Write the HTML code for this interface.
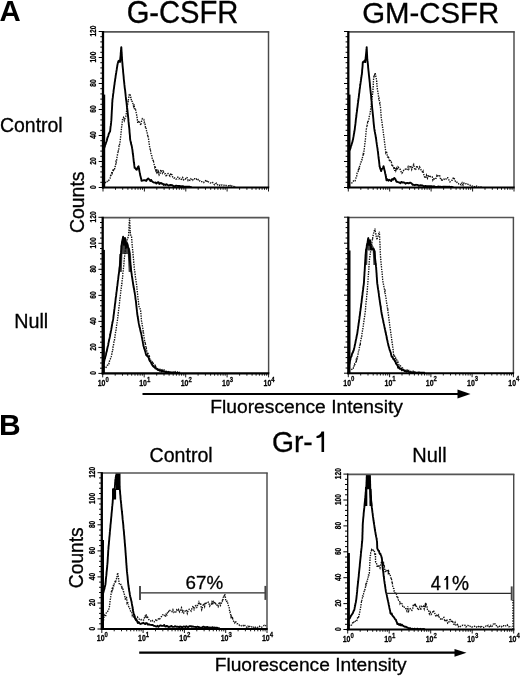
<!DOCTYPE html>
<html><head><meta charset="utf-8"><style>
html,body{margin:0;padding:0;background:#fff;width:520px;height:676px;overflow:hidden}
svg{display:block;filter:grayscale(1)}
text{font-family:"Liberation Sans", sans-serif;fill:#000}
</style></head><body>
<svg width="520" height="676" viewBox="0 0 520 676">
<rect width="520" height="676" fill="#fff"/>
<clipPath id="c1061"><rect x="100.0" y="31.7" width="171.5" height="159.0"/></clipPath>
<g clip-path="url(#c1061)">
<path d="M104.0,185.2 L104.8,183.2 L105.4,182.7 L106.0,181.6 L106.5,181.9 L107.1,181.6 L107.7,180.2 L108.5,180.4 L109.3,179.7 L110.1,178.2 L110.4,176.7 L110.8,174.6 L111.1,175.7 L111.5,173.6 L111.8,172.0 L112.2,173.1 L112.5,172.0 L113.1,168.9 L113.7,170.5 L114.2,169.9 L114.8,168.3 L115.0,167.1 L115.2,166.5 L115.4,165.1 L115.6,165.0 L115.8,163.8 L116.0,161.9 L116.2,162.2 L116.4,161.4 L116.6,160.3 L116.8,158.5 L117.0,157.6 L117.1,156.9 L117.3,156.4 L117.5,154.2 L117.7,153.5 L117.9,152.4 L118.0,151.3 L118.2,151.8 L118.4,149.7 L118.6,149.9 L118.8,149.0 L118.9,147.4 L119.1,146.0 L119.3,146.1 L119.5,145.3 L119.7,143.7 L119.8,143.1 L120.0,142.3 L120.2,140.4 L120.3,139.6 L120.4,139.0 L120.5,137.9 L120.6,136.9 L120.7,135.6 L120.8,134.8 L120.9,134.4 L121.0,133.0 L121.1,132.2 L121.2,130.9 L121.3,130.2 L121.4,129.4 L121.5,128.5 L121.6,126.8 L121.7,126.4 L121.8,125.2 L122.0,124.6 L122.1,123.1 L122.2,122.8 L122.3,121.6 L122.4,120.4 L122.5,119.4 L123.5,117.5 L124.3,120.5 L125.0,118.4 L125.8,116.7 L125.9,115.2 L126.1,114.3 L126.2,113.8 L126.4,113.0 L126.5,111.3 L126.7,110.4 L126.8,109.6 L126.9,108.5 L127.1,108.4 L127.2,107.2 L127.4,105.4 L127.5,105.3 L127.7,104.5 L127.8,102.9 L128.0,102.7 L128.2,100.7 L128.3,101.0 L128.5,99.0 L128.6,98.0 L128.8,97.2 L129.0,96.8 L129.1,95.8 L129.3,94.4 L130.0,93.9 L130.2,94.7 L130.4,95.5 L130.6,97.4 L130.9,97.3 L131.1,98.1 L131.3,100.3 L131.5,100.0 L131.9,101.2 L132.4,101.6 L132.8,103.2 L133.2,105.4 L133.7,106.6 L134.1,104.4 L134.5,108.6 L135.0,108.7 L135.4,108.3 L135.6,109.6 L135.7,110.8 L135.9,111.3 L136.1,112.2 L136.2,112.8 L136.4,113.8 L136.6,114.6 L136.7,116.4 L136.9,117.1 L137.0,117.3 L137.2,118.1 L137.4,119.9 L137.5,121.0 L137.7,123.2 L138.7,120.8 L139.8,122.4 L140.8,125.3 L141.6,120.9 L142.3,118.8 L143.1,119.6 L143.8,119.5 L144.0,120.1 L144.3,122.5 L144.5,122.3 L144.8,123.4 L145.0,123.6 L145.2,125.6 L145.5,127.4 L145.7,127.7 L146.0,127.3 L146.2,130.0 L146.4,130.2 L146.7,131.8 L146.9,131.9 L147.1,131.9 L147.3,133.7 L147.6,135.2 L147.8,136.4 L148.0,135.9 L148.3,138.3 L148.5,138.6 L148.6,139.5 L148.8,140.4 L148.9,141.7 L149.0,142.0 L149.1,142.8 L149.2,143.6 L149.4,145.2 L149.5,145.4 L149.6,146.9 L149.8,147.3 L149.9,148.5 L150.0,148.6 L150.2,150.8 L150.5,150.6 L150.7,151.5 L150.9,153.3 L151.2,154.0 L151.4,154.5 L151.6,155.6 L151.8,155.7 L152.1,156.9 L152.3,158.9 L152.6,159.4 L152.9,159.4 L153.2,162.0 L153.5,161.7 L153.9,163.5 L154.2,164.7 L154.5,165.8 L154.8,167.1 L155.1,166.1 L155.4,167.3 L155.8,170.2 L156.3,169.2 L156.7,172.0 L157.2,170.8 L157.6,172.3 L158.1,173.1 L158.5,171.8 L159.2,175.0 L160.0,173.9 L160.8,169.7 L161.5,172.0 L162.3,173.2 L163.1,170.1 L163.8,173.1 L164.6,173.9 L165.4,173.8 L166.2,176.8 L167.1,174.3 L168.0,173.5 L169.0,174.9 L169.9,176.0 L170.8,173.3 L171.4,174.3 L172.1,174.9 L172.7,177.1 L173.8,178.3 L174.8,177.9 L175.8,179.0 L176.9,178.9 L177.9,177.2 L179.0,178.8 L180.0,178.2 L180.9,179.2 L181.8,179.5 L182.7,177.7 L183.6,179.8 L184.5,178.9 L185.4,179.1 L186.3,177.2 L187.2,177.7 L188.1,180.5 L189.0,179.8 L189.9,180.4 L190.8,178.9 L191.7,179.9 L192.6,180.3 L193.5,178.5 L194.4,178.6 L195.3,179.5 L196.2,178.9 L197.1,180.1 L198.0,179.5 L198.9,181.3 L199.9,180.8 L200.8,181.6 L201.8,181.7 L202.7,182.1 L203.7,182.6 L204.6,181.1 L205.6,180.7 L206.5,182.0 L207.4,180.5 L208.3,181.8 L209.2,182.2 L210.1,182.9 L211.0,183.0 L211.9,183.4 L212.8,182.5 L213.7,183.8 L214.6,184.8 L215.5,183.8 L216.5,183.2 L217.4,184.5 L218.3,185.3 L219.2,185.7 L220.1,184.9 L221.0,185.4 L221.9,184.9 L222.8,185.3 L223.7,185.6 L224.6,184.7 L225.6,185.2 L226.5,185.5 L227.4,185.7 L228.3,185.7 L229.2,186.7 L230.1,185.5 L231.0,186.6 L231.9,185.8 L232.9,186.4 L233.9,186.5 L235.0,187.1 L236.0,187.0" fill="none" stroke="#111" stroke-width="1.35" stroke-dasharray="1.4,1.1"/>
<path d="M103.5,150.5 L103.8,148.9 L104.2,148.0 L104.5,147.2 L104.8,146.5 L105.1,144.8 L105.4,144.7 L105.7,143.8 L106.0,142.7 L106.3,142.0 L106.6,141.1 L106.9,140.2 L107.2,138.8 L107.5,137.7 L107.8,136.9 L108.0,136.7 L108.3,135.7 L108.6,134.4 L108.9,133.6 L109.5,132.3 L110.1,131.5 L110.2,130.3 L110.3,129.5 L110.4,128.4 L110.5,127.5 L110.6,126.3 L110.8,125.7 L110.9,124.6 L111.0,123.5 L111.1,122.7 L111.2,121.5 L111.3,120.7 L111.4,119.6 L111.4,118.8 L111.5,117.9 L111.5,116.8 L111.6,115.9 L111.6,114.8 L111.7,113.9 L111.7,112.9 L111.8,112.0 L111.8,110.9 L111.9,110.0 L112.0,109.0 L112.0,108.1 L112.1,107.1 L112.1,106.1 L112.2,105.2 L112.2,104.2 L112.2,103.2 L112.3,102.3 L112.4,101.4 L112.4,100.4 L112.5,99.6 L112.6,98.6 L112.8,97.7 L112.9,96.5 L113.0,95.6 L113.1,94.6 L113.2,93.9 L113.4,92.9 L113.5,91.8 L113.6,90.7 L113.7,89.9 L113.8,89.2 L114.0,88.1 L114.1,87.2 L114.2,86.4 L114.3,85.4 L114.5,84.5 L114.6,83.4 L114.7,82.4 L114.8,81.8 L115.0,81.1 L115.1,79.8 L115.2,78.9 L115.4,78.3 L115.5,77.5 L115.6,76.5 L115.7,75.6 L115.9,74.8 L116.0,73.6 L116.2,72.9 L116.3,71.9 L116.5,70.8 L116.6,70.3 L116.8,69.2 L116.9,68.2 L117.0,67.5 L117.2,66.6 L117.3,65.5 L117.5,64.8 L117.6,63.7 L117.8,63.3 L118.3,61.4 L118.7,60.9 L119.2,60.7 L120.0,61.9 L120.1,61.2 L120.2,60.0 L120.2,59.3 L120.3,58.3 L120.4,57.3 L120.5,56.5 L120.6,55.6 L120.7,54.7 L120.7,53.7 L120.8,52.6 L120.9,51.7 L121.0,51.0 L121.1,49.8 L121.1,49.0 L121.2,47.9 L121.3,47.2 L121.4,48.0 L121.4,49.0 L121.5,49.9 L121.5,50.9 L121.6,51.8 L121.7,52.7 L121.7,53.6 L121.8,54.6 L121.8,55.7 L121.9,56.6 L122.0,57.5 L122.0,58.6 L122.1,59.3 L122.1,60.3 L122.2,61.3 L122.3,62.2 L122.4,63.3 L122.5,64.0 L122.5,64.9 L122.6,65.8 L122.7,66.9 L122.8,67.8 L122.9,68.8 L123.0,69.7 L123.1,70.6 L123.1,71.6 L123.2,72.5 L123.3,73.5 L123.4,74.4 L123.5,75.4 L123.6,76.3 L123.7,77.3 L123.7,78.2 L123.8,79.0 L123.9,80.0 L124.0,80.9 L124.1,81.7 L124.2,82.7 L124.3,83.6 L124.4,84.7 L124.5,85.4 L124.6,86.5 L124.7,87.5 L124.8,88.3 L125.0,89.4 L125.1,90.1 L125.2,91.0 L125.3,92.1 L125.4,93.1 L125.5,93.9 L125.6,94.8 L125.7,96.0 L125.8,96.9 L125.9,97.6 L126.0,98.8 L126.1,99.8 L126.3,100.7 L126.4,101.6 L126.5,102.3 L126.6,103.5 L126.7,104.4 L126.8,105.2 L126.9,106.4 L127.0,107.2 L127.2,108.1 L127.3,109.3 L127.4,109.9 L127.5,110.8 L127.6,112.0 L127.7,112.9 L127.8,113.9 L127.9,114.7 L128.0,115.6 L128.1,116.6 L128.2,117.5 L128.3,118.6 L128.4,119.4 L128.4,120.4 L128.5,121.4 L128.6,122.1 L128.7,123.2 L128.8,124.3 L128.9,125.0 L129.0,126.1 L129.1,126.8 L129.2,127.7 L129.3,128.7 L129.4,129.6 L129.5,130.9 L129.5,131.6 L129.6,132.6 L129.7,133.6 L129.8,134.6 L129.9,135.5 L130.0,136.7 L130.0,137.6 L130.1,138.6 L130.2,139.6 L130.4,140.5 L130.6,141.2 L130.8,142.3 L131.0,143.2 L131.2,144.3 L131.5,145.1 L131.7,145.9 L131.9,146.9 L132.1,148.2 L132.3,149.1 L132.4,149.9 L132.5,150.7 L132.6,151.6 L132.7,152.5 L132.8,153.5 L133.0,154.6 L133.1,155.2 L133.2,156.1 L133.3,157.2 L133.4,158.0 L133.5,159.0 L133.6,160.0 L133.7,160.9 L133.8,161.8 L133.9,162.6 L134.1,163.3 L134.2,164.3 L134.3,165.4 L134.4,166.2 L134.5,167.0 L134.6,167.9 L135.4,168.2 L136.2,169.5 L136.7,169.8 L137.1,168.9 L137.6,167.7 L138.0,166.9 L138.5,166.3 L138.7,167.1 L138.8,167.6 L139.0,168.8 L139.2,169.7 L139.3,170.6 L139.5,171.5 L139.7,172.0 L139.8,172.9 L140.0,173.7 L140.2,175.3 L140.5,176.2 L140.8,177.4 L141.0,178.4 L141.2,178.7 L141.5,180.9 L142.4,180.6 L143.4,180.3 L144.3,180.3 L145.3,180.3 L146.2,180.9 L147.2,179.4 L148.2,178.4 L149.2,179.4 L149.8,179.9 L150.4,180.9 L151.1,179.9 L151.7,181.0 L152.3,181.5 L153.3,182.3 L154.4,182.6 L155.4,182.5 L156.4,183.6 L157.5,182.5 L158.5,182.2 L159.4,184.0 L160.2,183.2 L161.1,183.0 L162.0,183.8 L162.9,183.7 L163.7,184.9 L164.6,184.4 L165.6,185.0 L166.6,184.2 L167.6,185.0 L168.6,185.5 L169.6,185.2 L170.6,184.9 L172.3,185.1 L173.3,186.0 L174.2,186.1 L175.2,186.0 L176.2,185.7 L177.1,185.9 L178.1,186.0 L179.1,186.0 L180.0,186.0 L181.0,186.7 L182.0,186.2 L182.9,186.1 L183.9,186.7 L184.9,186.6 L185.9,186.8 L186.8,186.7 L187.8,186.6 L188.8,186.8 L189.8,186.8 L190.7,187.1 L191.7,187.0" fill="none" stroke="#000" stroke-width="1.9" stroke-linejoin="round"/>
</g>
<rect x="103.0" y="94.6" width="2.2" height="92.9" fill="#000"/>
<line x1="103.0" y1="31.8" x2="269.2" y2="31.8" stroke="#555" stroke-width="1.7"/>
<line x1="268.5" y1="31.5" x2="268.5" y2="187.5" stroke="#4a4a4a" stroke-width="1.45"/>
<line x1="103.0" y1="31.0" x2="103.0" y2="188.5" stroke="#000" stroke-width="2.3"/>
<line x1="102.0" y1="187.5" x2="269.2" y2="187.5" stroke="#000" stroke-width="2.1"/>
<line x1="98.7" y1="187.5" x2="103.0" y2="187.5" stroke="#000" stroke-width="1.0"/>
<text transform="translate(96.4,187.1) rotate(-90) scale(1,1.3)" font-size="6.6" font-weight="bold" text-anchor="middle" stroke="#000" stroke-width="0.2">0</text>
<line x1="100.3" y1="182.3" x2="103.0" y2="182.3" stroke="#000" stroke-width="1.0"/>
<line x1="100.3" y1="177.1" x2="103.0" y2="177.1" stroke="#000" stroke-width="1.0"/>
<line x1="100.3" y1="171.9" x2="103.0" y2="171.9" stroke="#000" stroke-width="1.0"/>
<line x1="100.3" y1="166.7" x2="103.0" y2="166.7" stroke="#000" stroke-width="1.0"/>
<line x1="98.7" y1="161.5" x2="103.0" y2="161.5" stroke="#000" stroke-width="1.0"/>
<text transform="translate(96.4,161.1) rotate(-90) scale(1,1.3)" font-size="6.6" font-weight="bold" text-anchor="middle" stroke="#000" stroke-width="0.2">20</text>
<line x1="100.3" y1="156.3" x2="103.0" y2="156.3" stroke="#000" stroke-width="1.0"/>
<line x1="100.3" y1="151.1" x2="103.0" y2="151.1" stroke="#000" stroke-width="1.0"/>
<line x1="100.3" y1="145.9" x2="103.0" y2="145.9" stroke="#000" stroke-width="1.0"/>
<line x1="100.3" y1="140.7" x2="103.0" y2="140.7" stroke="#000" stroke-width="1.0"/>
<line x1="98.7" y1="135.5" x2="103.0" y2="135.5" stroke="#000" stroke-width="1.0"/>
<text transform="translate(96.4,135.1) rotate(-90) scale(1,1.3)" font-size="6.6" font-weight="bold" text-anchor="middle" stroke="#000" stroke-width="0.2">40</text>
<line x1="100.3" y1="130.3" x2="103.0" y2="130.3" stroke="#000" stroke-width="1.0"/>
<line x1="100.3" y1="125.1" x2="103.0" y2="125.1" stroke="#000" stroke-width="1.0"/>
<line x1="100.3" y1="119.9" x2="103.0" y2="119.9" stroke="#000" stroke-width="1.0"/>
<line x1="100.3" y1="114.7" x2="103.0" y2="114.7" stroke="#000" stroke-width="1.0"/>
<line x1="98.7" y1="109.5" x2="103.0" y2="109.5" stroke="#000" stroke-width="1.0"/>
<text transform="translate(96.4,109.1) rotate(-90) scale(1,1.3)" font-size="6.6" font-weight="bold" text-anchor="middle" stroke="#000" stroke-width="0.2">60</text>
<line x1="100.3" y1="104.3" x2="103.0" y2="104.3" stroke="#000" stroke-width="1.0"/>
<line x1="100.3" y1="99.1" x2="103.0" y2="99.1" stroke="#000" stroke-width="1.0"/>
<line x1="100.3" y1="93.9" x2="103.0" y2="93.9" stroke="#000" stroke-width="1.0"/>
<line x1="100.3" y1="88.7" x2="103.0" y2="88.7" stroke="#000" stroke-width="1.0"/>
<line x1="98.7" y1="83.5" x2="103.0" y2="83.5" stroke="#000" stroke-width="1.0"/>
<text transform="translate(96.4,83.1) rotate(-90) scale(1,1.3)" font-size="6.6" font-weight="bold" text-anchor="middle" stroke="#000" stroke-width="0.2">80</text>
<line x1="100.3" y1="78.3" x2="103.0" y2="78.3" stroke="#000" stroke-width="1.0"/>
<line x1="100.3" y1="73.1" x2="103.0" y2="73.1" stroke="#000" stroke-width="1.0"/>
<line x1="100.3" y1="67.9" x2="103.0" y2="67.9" stroke="#000" stroke-width="1.0"/>
<line x1="100.3" y1="62.7" x2="103.0" y2="62.7" stroke="#000" stroke-width="1.0"/>
<line x1="98.7" y1="57.5" x2="103.0" y2="57.5" stroke="#000" stroke-width="1.0"/>
<text transform="translate(96.4,57.1) rotate(-90) scale(1,1.3)" font-size="6.6" font-weight="bold" text-anchor="middle" stroke="#000" stroke-width="0.2">100</text>
<line x1="100.3" y1="52.3" x2="103.0" y2="52.3" stroke="#000" stroke-width="1.0"/>
<line x1="100.3" y1="47.1" x2="103.0" y2="47.1" stroke="#000" stroke-width="1.0"/>
<line x1="100.3" y1="41.9" x2="103.0" y2="41.9" stroke="#000" stroke-width="1.0"/>
<line x1="100.3" y1="36.7" x2="103.0" y2="36.7" stroke="#000" stroke-width="1.0"/>
<line x1="98.7" y1="31.5" x2="103.0" y2="31.5" stroke="#000" stroke-width="1.0"/>
<text transform="translate(96.4,31.1) rotate(-90) scale(1,1.3)" font-size="6.6" font-weight="bold" text-anchor="middle" stroke="#000" stroke-width="0.2">120</text>
<line x1="103.0" y1="187.5" x2="103.0" y2="191.5" stroke="#000" stroke-width="0.9"/>
<line x1="115.5" y1="187.5" x2="115.5" y2="189.8" stroke="#000" stroke-width="0.9"/>
<line x1="122.7" y1="187.5" x2="122.7" y2="189.8" stroke="#000" stroke-width="0.9"/>
<line x1="127.9" y1="187.5" x2="127.9" y2="189.8" stroke="#000" stroke-width="0.9"/>
<line x1="131.9" y1="187.5" x2="131.9" y2="189.8" stroke="#000" stroke-width="0.9"/>
<line x1="135.2" y1="187.5" x2="135.2" y2="189.8" stroke="#000" stroke-width="0.9"/>
<line x1="138.0" y1="187.5" x2="138.0" y2="189.8" stroke="#000" stroke-width="0.9"/>
<line x1="140.4" y1="187.5" x2="140.4" y2="189.8" stroke="#000" stroke-width="0.9"/>
<line x1="142.5" y1="187.5" x2="142.5" y2="189.8" stroke="#000" stroke-width="0.9"/>
<line x1="144.4" y1="187.5" x2="144.4" y2="191.5" stroke="#000" stroke-width="0.9"/>
<line x1="156.8" y1="187.5" x2="156.8" y2="189.8" stroke="#000" stroke-width="0.9"/>
<line x1="164.1" y1="187.5" x2="164.1" y2="189.8" stroke="#000" stroke-width="0.9"/>
<line x1="169.3" y1="187.5" x2="169.3" y2="189.8" stroke="#000" stroke-width="0.9"/>
<line x1="173.3" y1="187.5" x2="173.3" y2="189.8" stroke="#000" stroke-width="0.9"/>
<line x1="176.6" y1="187.5" x2="176.6" y2="189.8" stroke="#000" stroke-width="0.9"/>
<line x1="179.3" y1="187.5" x2="179.3" y2="189.8" stroke="#000" stroke-width="0.9"/>
<line x1="181.7" y1="187.5" x2="181.7" y2="189.8" stroke="#000" stroke-width="0.9"/>
<line x1="183.9" y1="187.5" x2="183.9" y2="189.8" stroke="#000" stroke-width="0.9"/>
<line x1="185.8" y1="187.5" x2="185.8" y2="191.5" stroke="#000" stroke-width="0.9"/>
<line x1="198.2" y1="187.5" x2="198.2" y2="189.8" stroke="#000" stroke-width="0.9"/>
<line x1="205.5" y1="187.5" x2="205.5" y2="189.8" stroke="#000" stroke-width="0.9"/>
<line x1="210.7" y1="187.5" x2="210.7" y2="189.8" stroke="#000" stroke-width="0.9"/>
<line x1="214.7" y1="187.5" x2="214.7" y2="189.8" stroke="#000" stroke-width="0.9"/>
<line x1="217.9" y1="187.5" x2="217.9" y2="189.8" stroke="#000" stroke-width="0.9"/>
<line x1="220.7" y1="187.5" x2="220.7" y2="189.8" stroke="#000" stroke-width="0.9"/>
<line x1="223.1" y1="187.5" x2="223.1" y2="189.8" stroke="#000" stroke-width="0.9"/>
<line x1="225.2" y1="187.5" x2="225.2" y2="189.8" stroke="#000" stroke-width="0.9"/>
<line x1="227.1" y1="187.5" x2="227.1" y2="191.5" stroke="#000" stroke-width="0.9"/>
<line x1="239.6" y1="187.5" x2="239.6" y2="189.8" stroke="#000" stroke-width="0.9"/>
<line x1="246.9" y1="187.5" x2="246.9" y2="189.8" stroke="#000" stroke-width="0.9"/>
<line x1="252.0" y1="187.5" x2="252.0" y2="189.8" stroke="#000" stroke-width="0.9"/>
<line x1="256.0" y1="187.5" x2="256.0" y2="189.8" stroke="#000" stroke-width="0.9"/>
<line x1="259.3" y1="187.5" x2="259.3" y2="189.8" stroke="#000" stroke-width="0.9"/>
<line x1="262.1" y1="187.5" x2="262.1" y2="189.8" stroke="#000" stroke-width="0.9"/>
<line x1="264.5" y1="187.5" x2="264.5" y2="189.8" stroke="#000" stroke-width="0.9"/>
<line x1="266.6" y1="187.5" x2="266.6" y2="189.8" stroke="#000" stroke-width="0.9"/>
<line x1="268.5" y1="187.5" x2="268.5" y2="191.5" stroke="#000" stroke-width="0.9"/>
<clipPath id="c3514"><rect x="345.3" y="31.7" width="171.7" height="159.0"/></clipPath>
<g clip-path="url(#c3514)">
<path d="M351.2,183.1 L351.9,182.8 L352.5,182.4 L353.2,181.4 L353.8,180.3 L354.5,180.8 L355.1,180.8 L355.8,178.5 L356.1,177.3 L356.4,177.1 L356.7,176.1 L357.0,173.7 L357.2,172.8 L357.5,172.0 L357.8,171.6 L358.1,171.5 L358.4,169.2 L358.7,170.2 L359.1,168.2 L359.4,168.4 L359.7,165.2 L360.0,164.8 L360.3,164.3 L360.6,163.4 L360.9,163.3 L361.3,160.8 L361.6,160.4 L361.9,159.6 L362.2,159.7 L362.4,157.9 L362.7,156.6 L362.9,156.3 L363.2,154.5 L363.4,155.0 L363.7,153.6 L363.8,152.6 L363.9,151.5 L364.0,150.5 L364.2,150.3 L364.3,148.8 L364.4,147.7 L364.5,147.5 L364.6,146.1 L364.7,145.2 L364.8,144.7 L364.9,143.4 L365.1,142.0 L365.2,141.2 L365.3,140.4 L365.4,139.6 L365.5,138.3 L365.6,137.2 L365.6,136.8 L365.7,135.7 L365.8,134.7 L365.9,133.4 L366.0,132.4 L366.1,131.4 L366.1,131.0 L366.2,129.8 L366.3,129.5 L366.5,128.1 L366.8,126.3 L367.0,127.0 L367.2,124.8 L367.4,124.4 L367.6,122.6 L367.9,122.9 L368.1,122.5 L368.3,120.9 L368.6,119.9 L368.8,119.5 L369.0,118.4 L369.2,116.6 L369.4,116.0 L369.7,114.8 L369.9,114.2 L370.0,114.1 L370.2,113.0 L370.3,112.2 L370.4,111.0 L370.6,109.5 L370.7,109.2 L370.8,108.1 L370.9,107.1 L371.1,106.2 L371.2,104.6 L371.3,104.4 L371.5,103.3 L371.6,102.3 L371.7,101.4 L371.8,100.8 L371.9,99.1 L372.0,98.4 L372.1,97.3 L372.2,96.7 L372.4,96.1 L372.5,94.5 L372.6,93.7 L372.7,92.4 L372.8,92.2 L372.9,90.8 L373.0,90.1 L373.0,89.2 L373.1,88.4 L373.1,87.3 L373.2,86.5 L373.2,85.6 L373.3,84.6 L373.3,83.8 L373.4,82.8 L373.4,81.8 L373.5,80.9 L373.5,80.0 L373.6,78.9 L373.7,77.8 L373.8,77.6 L374.0,76.1 L374.1,75.6 L374.2,75.0 L374.3,76.2 L375.0,73.3 L375.2,72.9 L375.4,73.9 L375.6,74.9 L375.9,76.8 L376.1,77.6 L376.3,78.4 L376.5,79.5 L376.6,79.8 L376.7,81.2 L376.7,81.7 L376.8,83.2 L376.9,83.6 L377.0,84.8 L377.1,85.7 L377.1,86.8 L377.2,87.5 L377.3,88.1 L377.4,89.8 L377.6,90.7 L377.8,91.2 L377.9,92.5 L378.1,93.2 L378.2,93.5 L378.4,95.1 L378.5,96.5 L378.7,97.2 L378.8,98.5 L379.0,98.3 L379.2,99.9 L379.3,100.6 L379.5,101.5 L379.7,103.1 L379.9,102.9 L380.0,104.2 L380.2,105.5 L380.4,106.3 L380.5,107.3 L380.5,107.8 L380.6,108.9 L380.7,109.5 L380.7,110.9 L380.8,111.8 L380.9,112.7 L380.9,113.1 L381.0,114.2 L381.1,115.1 L381.1,115.9 L381.2,117.1 L381.3,118.5 L381.5,119.1 L381.6,120.1 L381.7,120.8 L381.8,121.1 L382.0,122.6 L382.1,123.7 L382.2,124.2 L382.4,125.6 L382.5,126.1 L382.6,127.4 L382.7,128.4 L382.9,129.2 L383.0,130.0 L383.1,131.3 L383.2,131.8 L383.4,133.0 L383.5,133.6 L383.6,134.6 L383.7,135.5 L383.8,137.0 L384.0,137.1 L384.1,138.4 L384.2,139.1 L384.3,140.4 L384.4,141.7 L384.5,141.8 L384.6,142.8 L384.8,144.1 L384.9,145.2 L385.0,146.2 L385.1,146.9 L385.2,148.1 L385.3,148.7 L385.5,149.7 L385.6,150.8 L385.7,151.3 L385.8,152.5 L386.2,151.7 L386.7,152.3 L387.1,155.0 L387.5,157.0 L387.9,156.8 L388.4,156.1 L388.8,158.6 L389.2,159.9 L389.7,161.7 L390.1,159.5 L390.5,160.8 L391.0,162.1 L391.4,162.0 L391.8,166.2 L392.3,166.4 L392.7,165.8 L393.2,166.5 L393.7,167.9 L394.2,166.7 L394.8,170.8 L395.3,168.5 L395.8,170.5 L396.4,168.4 L396.9,169.7 L397.4,169.9 L398.0,166.9 L398.8,167.7 L399.6,168.7 L400.3,169.6 L401.1,171.6 L401.9,173.2 L402.9,172.1 L404.0,169.5 L405.0,169.4 L405.8,169.0 L406.5,169.9 L407.3,169.1 L408.1,166.9 L408.8,169.1 L409.6,167.3 L410.6,165.6 L411.7,169.4 L412.7,166.3 L413.7,164.5 L414.8,169.9 L415.8,169.4 L416.8,165.7 L417.8,167.5 L418.8,168.9 L419.6,167.0 L420.4,168.7 L421.1,169.9 L421.9,171.2 L422.7,172.5 L423.1,171.5 L423.5,173.6 L423.8,174.4 L424.2,176.1 L424.6,177.1 L425.6,178.1 L426.5,175.2 L427.5,178.1 L428.5,174.9 L429.4,177.4 L430.4,176.4 L431.0,177.1 L431.7,177.0 L432.3,177.0 L432.9,180.1 L433.6,178.9 L434.2,179.1 L434.7,179.0 L435.3,179.4 L435.8,178.3 L436.4,178.1 L436.9,175.6 L437.5,176.4 L438.0,175.7 L438.6,175.0 L439.1,175.6 L439.7,175.7 L440.2,177.9 L440.8,179.6 L441.3,179.4 L441.9,181.2 L442.9,179.0 L443.9,179.0 L444.8,179.8 L445.8,179.4 L446.8,177.6 L447.7,177.7 L448.7,179.6 L449.6,181.8 L450.6,181.7 L451.6,180.4 L452.5,180.0 L453.5,177.4 L454.1,178.3 L454.8,179.6 L455.4,181.5 L456.0,181.3 L456.7,181.7 L457.3,183.3 L458.3,183.6 L459.2,184.6 L460.2,184.3 L461.1,185.0 L462.1,182.9 L463.1,185.2 L464.0,183.1 L465.0,183.9 L466.0,183.7 L466.9,184.6 L467.9,184.3 L468.9,184.6 L469.8,184.8 L470.8,186.2 L471.8,186.3 L472.7,185.9 L473.6,186.5 L474.6,186.7 L475.6,187.0 L476.5,186.1 L477.5,186.6 L478.4,187.1 L479.4,186.8 L480.4,186.6 L481.3,187.1 L482.3,187.0" fill="none" stroke="#111" stroke-width="1.35" stroke-dasharray="1.4,1.1"/>
<path d="M349.3,150.7 L349.6,149.9 L350.0,149.5 L350.3,148.7 L350.6,147.9 L350.8,146.8 L351.1,145.6 L351.4,145.3 L351.6,144.3 L351.9,143.4 L352.2,142.4 L352.5,141.6 L352.7,140.3 L353.0,139.6 L353.1,138.9 L353.3,137.8 L353.4,137.0 L353.6,136.2 L353.8,134.8 L353.9,134.0 L354.1,133.4 L354.2,132.6 L354.4,131.5 L354.5,130.7 L354.7,129.8 L354.8,128.8 L354.9,128.0 L355.0,127.0 L355.1,126.1 L355.3,125.1 L355.4,123.9 L355.5,123.2 L355.6,122.3 L355.7,121.3 L355.8,120.2 L355.9,119.3 L356.0,118.3 L356.2,117.6 L356.3,116.6 L356.4,115.7 L356.5,114.4 L356.6,113.7 L356.7,112.9 L356.9,111.7 L357.0,111.0 L357.1,109.9 L357.2,108.9 L357.3,108.1 L357.5,107.0 L357.6,106.2 L357.7,105.2 L357.8,104.3 L357.9,103.1 L358.1,102.2 L358.2,101.2 L358.3,100.5 L358.4,99.6 L358.5,98.6 L358.7,97.7 L358.8,96.6 L358.9,95.8 L359.0,94.7 L359.1,93.8 L359.3,93.0 L359.4,91.9 L359.5,90.9 L359.6,89.9 L359.7,89.0 L359.9,88.1 L360.0,87.0 L360.1,86.2 L360.2,85.1 L360.4,84.3 L360.5,83.5 L360.6,82.7 L360.7,81.7 L360.9,80.9 L361.0,80.0 L361.1,78.9 L361.3,78.0 L361.4,77.2 L361.5,76.6 L361.6,75.4 L361.8,74.8 L361.9,73.6 L362.0,72.8 L362.1,71.7 L362.1,70.8 L362.2,69.7 L362.3,68.8 L362.4,67.9 L362.5,67.0 L362.6,65.9 L362.6,64.9 L362.7,64.1 L362.8,62.2 L363.4,61.7 L363.9,61.9 L364.5,60.6 L365.3,62.1 L365.4,61.2 L365.5,60.1 L365.6,59.3 L365.6,58.2 L365.7,57.3 L365.8,56.5 L365.9,55.6 L366.0,54.5 L366.1,53.6 L366.2,52.7 L366.3,51.7 L366.4,50.8 L366.4,50.0 L366.5,48.9 L366.6,48.2 L366.7,47.1 L366.7,48.1 L366.8,49.1 L366.8,50.0 L366.9,50.9 L366.9,51.9 L367.0,52.9 L367.0,53.9 L367.1,54.9 L367.1,55.9 L367.2,56.8 L367.2,58.0 L367.3,58.8 L367.4,59.7 L367.5,60.7 L367.6,61.4 L367.7,62.6 L367.8,63.4 L367.9,64.3 L368.0,65.1 L368.1,66.3 L368.1,67.2 L368.2,67.9 L368.3,68.8 L368.4,70.0 L368.5,70.9 L368.6,71.7 L368.7,72.7 L368.8,73.7 L368.9,74.7 L369.0,75.6 L369.1,76.3 L369.2,77.3 L369.3,78.3 L369.4,79.1 L369.5,80.2 L369.6,81.3 L369.7,81.9 L369.8,83.1 L369.9,84.0 L369.9,85.0 L370.0,85.8 L370.1,86.8 L370.2,87.7 L370.3,88.5 L370.4,89.7 L370.5,90.5 L370.6,91.5 L370.7,92.3 L370.8,93.3 L370.9,94.1 L371.0,95.0 L371.1,96.0 L371.2,97.0 L371.2,98.0 L371.3,98.9 L371.4,99.9 L371.5,100.7 L371.6,101.7 L371.7,102.6 L371.8,103.6 L371.9,104.6 L372.0,105.5 L372.1,106.5 L372.1,107.2 L372.2,108.3 L372.3,109.2 L372.4,110.0 L372.5,110.9 L372.6,111.9 L372.7,112.9 L372.8,113.8 L372.9,114.6 L373.0,115.7 L373.1,116.6 L373.2,117.7 L373.3,118.6 L373.4,119.3 L373.4,120.2 L373.5,121.3 L373.6,122.1 L373.7,123.3 L373.8,124.3 L373.9,125.0 L374.0,126.0 L374.1,126.9 L374.2,127.8 L374.3,128.9 L374.5,129.6 L374.6,130.8 L374.8,131.7 L375.0,132.5 L375.1,133.5 L375.3,134.2 L375.5,135.0 L375.6,136.1 L375.8,137.2 L375.9,138.0 L376.1,138.8 L376.2,139.7 L376.3,140.6 L376.4,141.4 L376.6,142.6 L376.7,143.4 L376.8,144.2 L377.0,145.3 L377.1,146.0 L377.2,146.9 L377.4,147.9 L377.5,148.6 L377.6,149.4 L377.7,150.4 L377.9,151.5 L378.0,152.1 L378.1,153.3 L378.2,154.2 L378.3,155.2 L378.4,155.9 L378.5,157.0 L378.6,158.0 L378.7,158.7 L378.9,159.9 L379.0,160.7 L379.1,161.4 L379.2,162.7 L379.3,163.5 L379.4,164.4 L379.5,165.1 L379.6,166.6 L379.9,167.1 L380.2,168.5 L380.6,169.4 L380.9,170.2 L381.2,171.1 L381.7,169.1 L382.1,168.9 L382.6,168.3 L383.0,167.6 L383.5,166.2 L383.8,166.8 L384.0,168.3 L384.2,168.9 L384.5,170.4 L384.8,170.9 L385.0,172.3 L385.2,173.5 L385.4,174.1 L385.6,175.1 L385.8,175.9 L385.9,177.0 L386.1,178.1 L386.3,179.1 L386.5,180.3 L387.4,179.2 L388.4,180.7 L389.3,179.8 L390.3,180.4 L391.2,181.1 L392.2,179.0 L393.2,179.7 L394.2,177.9 L394.8,178.5 L395.4,179.2 L396.1,181.0 L396.7,181.9 L397.3,181.8 L398.3,182.2 L399.4,182.4 L400.4,183.2 L401.4,181.9 L402.5,182.6 L403.5,182.3 L404.5,182.6 L405.5,183.7 L406.6,183.0 L407.6,183.0 L408.6,183.3 L409.6,182.8 L410.6,182.8 L411.7,183.5 L412.7,184.9 L413.7,184.8 L414.7,185.2 L415.8,184.8 L416.8,184.9 L417.8,184.9 L418.8,185.7 L419.8,185.5 L420.7,185.3 L421.7,185.5 L422.6,185.5 L423.6,186.2 L424.6,186.3 L425.5,186.0 L426.5,186.1 L427.5,186.2 L428.4,186.2 L429.4,186.2 L430.3,186.3 L431.3,186.2 L432.2,186.5 L433.2,186.5 L434.2,186.3 L435.1,186.6 L436.1,186.9 L437.0,187.0 L438.0,186.5 L438.9,186.7 L439.8,186.7 L440.7,186.7 L441.6,186.9 L442.6,186.8 L443.5,186.6 L444.4,186.6 L445.3,186.8 L446.2,187.0 L447.1,186.7 L448.0,187.1 L448.9,186.7 L449.9,186.8 L450.8,187.1 L451.7,186.8 L452.6,187.1 L453.5,187.1" fill="none" stroke="#000" stroke-width="1.9" stroke-linejoin="round"/>
</g>
<rect x="348.3" y="94.6" width="2.2" height="92.9" fill="#000"/>
<line x1="348.3" y1="31.8" x2="514.7" y2="31.8" stroke="#555" stroke-width="1.7"/>
<line x1="514.0" y1="31.5" x2="514.0" y2="187.5" stroke="#4a4a4a" stroke-width="1.45"/>
<line x1="348.3" y1="31.0" x2="348.3" y2="188.5" stroke="#000" stroke-width="2.3"/>
<line x1="347.3" y1="187.5" x2="514.7" y2="187.5" stroke="#000" stroke-width="2.1"/>
<line x1="344.0" y1="187.5" x2="348.3" y2="187.5" stroke="#000" stroke-width="1.0"/>
<line x1="345.6" y1="182.3" x2="348.3" y2="182.3" stroke="#000" stroke-width="1.0"/>
<line x1="345.6" y1="177.1" x2="348.3" y2="177.1" stroke="#000" stroke-width="1.0"/>
<line x1="345.6" y1="171.9" x2="348.3" y2="171.9" stroke="#000" stroke-width="1.0"/>
<line x1="345.6" y1="166.7" x2="348.3" y2="166.7" stroke="#000" stroke-width="1.0"/>
<line x1="344.0" y1="161.5" x2="348.3" y2="161.5" stroke="#000" stroke-width="1.0"/>
<line x1="345.6" y1="156.3" x2="348.3" y2="156.3" stroke="#000" stroke-width="1.0"/>
<line x1="345.6" y1="151.1" x2="348.3" y2="151.1" stroke="#000" stroke-width="1.0"/>
<line x1="345.6" y1="145.9" x2="348.3" y2="145.9" stroke="#000" stroke-width="1.0"/>
<line x1="345.6" y1="140.7" x2="348.3" y2="140.7" stroke="#000" stroke-width="1.0"/>
<line x1="344.0" y1="135.5" x2="348.3" y2="135.5" stroke="#000" stroke-width="1.0"/>
<line x1="345.6" y1="130.3" x2="348.3" y2="130.3" stroke="#000" stroke-width="1.0"/>
<line x1="345.6" y1="125.1" x2="348.3" y2="125.1" stroke="#000" stroke-width="1.0"/>
<line x1="345.6" y1="119.9" x2="348.3" y2="119.9" stroke="#000" stroke-width="1.0"/>
<line x1="345.6" y1="114.7" x2="348.3" y2="114.7" stroke="#000" stroke-width="1.0"/>
<line x1="344.0" y1="109.5" x2="348.3" y2="109.5" stroke="#000" stroke-width="1.0"/>
<line x1="345.6" y1="104.3" x2="348.3" y2="104.3" stroke="#000" stroke-width="1.0"/>
<line x1="345.6" y1="99.1" x2="348.3" y2="99.1" stroke="#000" stroke-width="1.0"/>
<line x1="345.6" y1="93.9" x2="348.3" y2="93.9" stroke="#000" stroke-width="1.0"/>
<line x1="345.6" y1="88.7" x2="348.3" y2="88.7" stroke="#000" stroke-width="1.0"/>
<line x1="344.0" y1="83.5" x2="348.3" y2="83.5" stroke="#000" stroke-width="1.0"/>
<line x1="345.6" y1="78.3" x2="348.3" y2="78.3" stroke="#000" stroke-width="1.0"/>
<line x1="345.6" y1="73.1" x2="348.3" y2="73.1" stroke="#000" stroke-width="1.0"/>
<line x1="345.6" y1="67.9" x2="348.3" y2="67.9" stroke="#000" stroke-width="1.0"/>
<line x1="345.6" y1="62.7" x2="348.3" y2="62.7" stroke="#000" stroke-width="1.0"/>
<line x1="344.0" y1="57.5" x2="348.3" y2="57.5" stroke="#000" stroke-width="1.0"/>
<line x1="345.6" y1="52.3" x2="348.3" y2="52.3" stroke="#000" stroke-width="1.0"/>
<line x1="345.6" y1="47.1" x2="348.3" y2="47.1" stroke="#000" stroke-width="1.0"/>
<line x1="345.6" y1="41.9" x2="348.3" y2="41.9" stroke="#000" stroke-width="1.0"/>
<line x1="345.6" y1="36.7" x2="348.3" y2="36.7" stroke="#000" stroke-width="1.0"/>
<line x1="344.0" y1="31.5" x2="348.3" y2="31.5" stroke="#000" stroke-width="1.0"/>
<line x1="348.3" y1="187.5" x2="348.3" y2="191.5" stroke="#000" stroke-width="0.9"/>
<line x1="360.8" y1="187.5" x2="360.8" y2="189.8" stroke="#000" stroke-width="0.9"/>
<line x1="368.1" y1="187.5" x2="368.1" y2="189.8" stroke="#000" stroke-width="0.9"/>
<line x1="373.2" y1="187.5" x2="373.2" y2="189.8" stroke="#000" stroke-width="0.9"/>
<line x1="377.3" y1="187.5" x2="377.3" y2="189.8" stroke="#000" stroke-width="0.9"/>
<line x1="380.5" y1="187.5" x2="380.5" y2="189.8" stroke="#000" stroke-width="0.9"/>
<line x1="383.3" y1="187.5" x2="383.3" y2="189.8" stroke="#000" stroke-width="0.9"/>
<line x1="385.7" y1="187.5" x2="385.7" y2="189.8" stroke="#000" stroke-width="0.9"/>
<line x1="387.8" y1="187.5" x2="387.8" y2="189.8" stroke="#000" stroke-width="0.9"/>
<line x1="389.7" y1="187.5" x2="389.7" y2="191.5" stroke="#000" stroke-width="0.9"/>
<line x1="402.2" y1="187.5" x2="402.2" y2="189.8" stroke="#000" stroke-width="0.9"/>
<line x1="409.5" y1="187.5" x2="409.5" y2="189.8" stroke="#000" stroke-width="0.9"/>
<line x1="414.7" y1="187.5" x2="414.7" y2="189.8" stroke="#000" stroke-width="0.9"/>
<line x1="418.7" y1="187.5" x2="418.7" y2="189.8" stroke="#000" stroke-width="0.9"/>
<line x1="422.0" y1="187.5" x2="422.0" y2="189.8" stroke="#000" stroke-width="0.9"/>
<line x1="424.7" y1="187.5" x2="424.7" y2="189.8" stroke="#000" stroke-width="0.9"/>
<line x1="427.1" y1="187.5" x2="427.1" y2="189.8" stroke="#000" stroke-width="0.9"/>
<line x1="429.3" y1="187.5" x2="429.3" y2="189.8" stroke="#000" stroke-width="0.9"/>
<line x1="431.1" y1="187.5" x2="431.1" y2="191.5" stroke="#000" stroke-width="0.9"/>
<line x1="443.6" y1="187.5" x2="443.6" y2="189.8" stroke="#000" stroke-width="0.9"/>
<line x1="450.9" y1="187.5" x2="450.9" y2="189.8" stroke="#000" stroke-width="0.9"/>
<line x1="456.1" y1="187.5" x2="456.1" y2="189.8" stroke="#000" stroke-width="0.9"/>
<line x1="460.1" y1="187.5" x2="460.1" y2="189.8" stroke="#000" stroke-width="0.9"/>
<line x1="463.4" y1="187.5" x2="463.4" y2="189.8" stroke="#000" stroke-width="0.9"/>
<line x1="466.2" y1="187.5" x2="466.2" y2="189.8" stroke="#000" stroke-width="0.9"/>
<line x1="468.6" y1="187.5" x2="468.6" y2="189.8" stroke="#000" stroke-width="0.9"/>
<line x1="470.7" y1="187.5" x2="470.7" y2="189.8" stroke="#000" stroke-width="0.9"/>
<line x1="472.6" y1="187.5" x2="472.6" y2="191.5" stroke="#000" stroke-width="0.9"/>
<line x1="485.0" y1="187.5" x2="485.0" y2="189.8" stroke="#000" stroke-width="0.9"/>
<line x1="492.3" y1="187.5" x2="492.3" y2="189.8" stroke="#000" stroke-width="0.9"/>
<line x1="497.5" y1="187.5" x2="497.5" y2="189.8" stroke="#000" stroke-width="0.9"/>
<line x1="501.5" y1="187.5" x2="501.5" y2="189.8" stroke="#000" stroke-width="0.9"/>
<line x1="504.8" y1="187.5" x2="504.8" y2="189.8" stroke="#000" stroke-width="0.9"/>
<line x1="507.6" y1="187.5" x2="507.6" y2="189.8" stroke="#000" stroke-width="0.9"/>
<line x1="510.0" y1="187.5" x2="510.0" y2="189.8" stroke="#000" stroke-width="0.9"/>
<line x1="512.1" y1="187.5" x2="512.1" y2="189.8" stroke="#000" stroke-width="0.9"/>
<line x1="514.0" y1="187.5" x2="514.0" y2="191.5" stroke="#000" stroke-width="0.9"/>
<clipPath id="c1244"><rect x="99.7" y="217.5" width="171.9" height="159.1"/></clipPath>
<g clip-path="url(#c1244)">
<path d="M103.8,366.3 L104.8,367.4 L105.7,367.8 L106.7,366.4 L107.1,366.1 L107.5,365.1 L107.9,365.0 L108.3,364.1 L108.7,364.1 L109.1,363.1 L109.5,361.0 L109.9,359.7 L110.3,359.2 L110.7,358.4 L111.1,358.1 L111.3,356.4 L111.4,356.2 L111.6,355.6 L111.8,354.0 L111.9,353.4 L112.1,351.9 L112.3,351.6 L112.4,350.4 L112.6,350.5 L112.8,349.4 L112.9,348.1 L113.1,346.7 L113.2,345.8 L113.4,345.1 L113.6,344.8 L113.7,343.3 L113.9,342.3 L114.1,341.6 L114.2,341.6 L114.4,340.5 L114.5,340.0 L114.7,338.1 L114.8,337.8 L115.0,336.7 L115.1,336.3 L115.2,334.3 L115.4,333.9 L115.5,333.1 L115.6,331.5 L115.8,331.4 L115.9,330.6 L116.1,329.6 L116.2,328.1 L116.3,327.8 L116.5,326.1 L116.6,325.8 L116.7,324.1 L116.9,323.3 L117.0,322.9 L117.2,322.1 L117.3,321.5 L117.4,320.3 L117.6,319.5 L117.7,318.6 L117.8,317.5 L117.9,315.9 L118.0,315.8 L118.1,314.2 L118.2,313.9 L118.3,313.1 L118.4,311.7 L118.5,310.9 L118.6,309.6 L118.7,308.8 L118.8,308.5 L119.0,307.1 L119.1,306.1 L119.2,305.6 L119.3,304.5 L119.4,303.3 L119.5,303.0 L119.6,301.4 L119.7,300.4 L119.8,300.0 L119.9,299.1 L120.0,297.9 L120.1,297.7 L120.2,296.1 L120.3,295.7 L120.5,294.5 L120.6,293.3 L120.7,292.9 L120.8,291.4 L120.9,290.4 L121.0,289.4 L121.2,289.2 L121.3,287.6 L121.4,287.2 L121.5,285.6 L121.6,285.5 L121.7,283.8 L121.9,283.7 L122.0,282.6 L122.1,281.4 L122.2,280.0 L122.3,279.3 L122.4,279.0 L122.5,277.8 L122.6,277.0 L122.7,275.7 L122.8,274.5 L122.8,273.6 L122.9,272.9 L123.0,272.5 L123.1,271.5 L123.2,270.0 L123.3,269.7 L123.4,268.7 L123.5,267.8 L123.6,266.9 L123.7,265.8 L123.8,264.3 L123.9,264.0 L123.9,262.9 L124.0,262.1 L124.1,261.0 L124.2,260.1 L124.3,259.5 L124.4,257.9 L124.5,257.8 L124.6,256.7 L124.7,255.8 L124.9,254.3 L125.0,253.6 L125.1,252.4 L125.2,252.0 L125.3,250.4 L125.4,250.2 L125.5,248.9 L125.7,247.5 L125.8,246.9 L125.9,246.4 L126.0,245.5 L126.2,244.7 L126.3,243.9 L126.5,242.3 L126.7,240.8 L126.9,240.6 L127.0,238.9 L127.2,239.4 L127.6,238.6 L128.1,237.2 L128.5,236.0 L128.6,235.2 L128.6,234.2 L128.7,233.1 L128.7,232.5 L128.8,231.3 L128.8,230.6 L128.9,229.6 L128.9,228.5 L129.0,227.6 L129.0,227.0 L129.1,226.0 L129.1,224.9 L129.2,223.9 L129.2,223.4 L129.3,222.2 L129.3,221.2 L129.4,220.5 L129.4,219.3 L129.5,218.7 L129.5,217.7 L129.6,216.7 L129.6,217.7 L129.7,218.7 L129.7,219.5 L129.7,220.6 L129.8,221.6 L129.8,222.4 L129.8,223.5 L129.9,224.2 L129.9,225.2 L130.0,226.3 L130.0,227.0 L130.0,228.0 L130.1,228.9 L130.1,230.1 L130.1,230.8 L130.2,231.9 L130.2,231.6 L130.6,235.0 L131.1,235.4 L131.5,236.0 L131.6,237.2 L131.6,237.5 L131.7,238.9 L131.8,239.6 L131.8,240.4 L131.9,241.3 L132.0,242.5 L132.1,243.3 L132.1,244.2 L132.2,245.2 L132.3,245.6 L132.4,247.0 L132.4,247.4 L132.5,248.7 L132.6,249.6 L132.7,250.4 L132.8,251.4 L132.9,251.8 L132.9,252.8 L133.0,253.9 L133.1,254.9 L133.2,256.0 L133.3,256.6 L133.3,257.4 L133.4,258.3 L133.5,259.1 L133.6,260.4 L133.7,261.6 L133.7,262.5 L133.8,262.9 L133.9,264.2 L134.0,264.5 L134.1,265.5 L134.2,266.4 L134.2,267.5 L134.3,268.0 L134.4,269.1 L134.5,270.6 L134.7,271.7 L134.8,271.7 L134.9,272.7 L135.0,273.4 L135.2,274.9 L135.3,276.1 L135.4,276.9 L135.6,278.0 L135.7,279.1 L135.8,279.3 L136.0,280.1 L136.1,281.8 L136.2,282.7 L136.3,283.3 L136.5,284.2 L136.6,284.9 L136.7,286.0 L136.8,286.7 L136.9,287.8 L137.0,289.1 L137.1,289.9 L137.2,290.6 L137.3,291.7 L137.4,292.5 L137.5,293.2 L137.6,294.0 L137.7,295.2 L137.8,295.7 L137.9,297.4 L138.0,298.2 L138.1,299.1 L138.2,299.6 L138.3,300.9 L138.5,302.0 L138.6,303.4 L138.7,304.1 L138.8,305.9 L139.2,306.7 L139.5,307.5 L139.9,307.7 L140.2,309.2 L140.6,310.2 L140.7,311.1 L140.7,311.7 L140.8,313.0 L140.9,313.3 L141.0,314.6 L141.0,315.4 L141.1,316.4 L141.2,317.5 L141.3,318.3 L141.3,319.3 L141.4,320.7 L141.6,321.4 L141.7,322.2 L141.9,322.3 L142.0,323.3 L142.2,325.1 L142.3,325.6 L142.5,326.4 L142.6,327.9 L142.8,328.2 L142.9,328.7 L143.1,329.7 L143.2,331.4 L143.3,331.3 L143.5,333.2 L143.6,333.3 L143.7,334.7 L143.8,335.4 L144.0,336.4 L144.1,336.9 L144.2,337.8 L144.3,338.9 L144.5,340.2 L144.6,341.2 L144.8,341.0 L145.0,342.4 L145.2,344.2 L145.4,343.9 L145.6,344.8 L145.8,345.5 L145.9,347.8 L146.1,348.7 L146.3,348.4 L146.5,349.3 L146.7,351.0 L146.9,351.7 L147.3,352.5 L147.6,353.7 L148.0,352.6 L148.3,355.3 L148.7,356.9 L149.0,356.2 L149.4,356.0 L149.7,358.7 L150.1,359.8 L150.4,359.5 L150.8,360.6 L151.4,361.9 L152.0,363.9 L152.5,361.9 L153.1,362.4 L153.7,365.9 L154.2,365.5 L154.8,367.5 L155.4,366.0 L156.3,368.9 L157.1,367.9 L158.0,369.4 L158.9,369.8 L159.8,369.3 L160.6,368.9 L161.5,369.0 L162.4,370.3 L163.3,370.2 L164.2,369.9 L165.0,370.7 L165.9,371.3 L166.8,371.1 L167.7,371.4 L168.6,371.7 L169.6,372.4 L170.5,372.4 L171.5,372.3 L172.4,372.0 L173.4,372.7 L174.3,372.1 L175.3,371.6 L176.2,371.5 L177.2,371.8 L178.1,372.4 L179.1,372.2 L180.0,372.5" fill="none" stroke="#111" stroke-width="1.35" stroke-dasharray="1.4,1.1"/>
<path d="M103.7,363.7 L103.9,363.1 L104.1,362.4 L104.2,361.2 L104.4,360.2 L104.6,359.3 L104.9,358.7 L105.1,358.0 L105.3,356.6 L105.6,356.0 L105.8,355.3 L106.0,354.4 L106.2,353.1 L106.5,351.9 L106.7,351.5 L106.9,350.6 L107.1,349.5 L107.3,348.5 L107.5,347.6 L107.7,346.7 L107.9,346.0 L108.1,345.3 L108.3,344.4 L108.4,343.0 L108.6,342.5 L108.8,341.6 L109.0,340.6 L109.2,339.4 L109.4,338.7 L109.6,337.9 L109.8,337.0 L110.0,336.2 L110.2,335.0 L110.3,333.8 L110.5,333.4 L110.7,332.5 L110.8,331.3 L111.0,330.7 L111.2,329.9 L111.3,329.0 L111.5,328.0 L111.7,327.1 L111.8,325.9 L112.0,325.5 L112.1,324.1 L112.3,323.4 L112.5,322.5 L112.6,321.7 L112.8,321.0 L113.0,319.9 L113.1,319.2 L113.3,318.2 L113.4,317.3 L113.5,316.4 L113.6,315.5 L113.8,314.2 L113.9,313.6 L114.0,312.5 L114.1,311.8 L114.2,310.8 L114.3,309.6 L114.5,308.9 L114.6,307.7 L114.7,307.1 L114.8,306.1 L114.9,305.0 L115.0,304.0 L115.2,303.3 L115.3,302.1 L115.4,301.3 L115.5,300.5 L115.6,299.4 L115.7,298.4 L115.8,297.5 L116.0,296.6 L116.1,295.9 L116.2,294.7 L116.3,293.9 L116.4,293.0 L116.5,291.8 L116.7,291.2 L116.8,290.2 L116.9,289.3 L117.0,288.1 L117.1,287.1 L117.2,286.5 L117.4,285.4 L117.5,284.3 L117.6,283.6 L117.7,282.7 L117.8,281.7 L117.9,280.8 L118.1,279.7 L118.2,278.8 L118.3,278.0 L118.4,277.0 L118.5,275.9 L118.7,275.0 L118.8,274.2 L118.9,273.4 L119.0,272.5 L119.2,271.6 L119.3,270.4 L119.4,269.6 L119.5,268.4 L119.6,267.7 L119.8,266.8 L119.9,265.8 L120.0,265.0 L120.1,263.9 L120.2,262.9 L120.2,262.1 L120.3,261.2 L120.4,260.2 L120.5,259.1 L120.5,258.3 L120.6,257.3 L120.7,256.4 L120.8,255.3 L120.9,254.4 L120.9,253.5 L121.0,252.7 L121.1,251.5 L121.2,250.7 L121.3,249.8 L121.4,248.6 L121.5,247.8 L121.5,246.7 L121.6,245.8 L121.7,244.9 L121.8,243.9 L121.9,242.9 L122.0,241.8 L122.2,241.3 L122.4,240.2 L122.7,239.1 L122.9,238.2 L123.1,236.8 L123.2,237.6 L123.3,238.7 L123.4,239.5 L123.5,240.6 L123.6,241.2 L123.7,242.2 L123.8,243.3 L123.9,243.9 L124.0,244.9 L124.1,243.9 L124.3,242.8 L124.4,242.2 L124.6,241.0 L124.7,239.8 L124.9,239.2 L125.0,237.9 L125.1,238.8 L125.2,239.8 L125.3,240.8 L125.4,241.7 L125.5,242.5 L125.5,243.6 L125.6,244.3 L125.7,245.2 L125.8,246.1 L125.9,247.1 L126.0,247.7 L126.2,247.3 L126.4,245.9 L126.6,244.7 L126.8,243.9 L127.0,242.9 L127.3,243.6 L127.5,244.6 L127.8,245.5 L128.0,247.0 L128.3,247.9 L128.5,248.3 L128.8,249.3 L128.9,250.3 L129.0,251.2 L129.1,252.2 L129.2,253.2 L129.2,254.3 L129.3,255.2 L129.4,255.9 L129.5,257.1 L129.6,258.2 L129.7,258.9 L129.8,260.1 L129.9,260.7 L130.1,261.7 L130.2,262.8 L130.3,263.8 L130.4,264.7 L130.5,265.3 L130.7,266.7 L130.8,267.5 L130.9,268.4 L131.0,269.5 L131.1,270.5 L131.3,271.2 L131.4,272.3 L131.5,273.1 L131.7,274.1 L131.8,275.0 L131.9,275.9 L132.1,277.2 L132.2,277.8 L132.4,279.0 L132.5,279.8 L132.7,281.2 L132.8,281.8 L133.0,282.9 L133.1,283.8 L133.3,285.0 L133.5,286.1 L133.6,287.1 L133.8,287.9 L134.0,288.4 L134.1,289.6 L134.3,290.2 L134.4,291.5 L134.6,292.2 L134.8,293.3 L134.9,294.2 L135.1,295.0 L135.2,295.8 L135.3,296.7 L135.4,297.8 L135.5,298.8 L135.6,299.4 L135.8,300.3 L135.9,301.3 L136.0,302.2 L136.1,303.0 L136.2,304.1 L136.3,305.1 L136.4,305.9 L136.5,307.0 L136.6,307.8 L136.7,308.7 L136.8,309.7 L136.9,310.5 L137.0,311.4 L137.1,312.1 L137.2,313.3 L137.3,314.3 L137.4,314.9 L137.6,316.1 L137.7,316.8 L137.9,317.6 L138.0,318.8 L138.2,319.3 L138.3,320.7 L138.5,321.3 L138.6,322.4 L138.8,323.3 L138.9,323.9 L139.1,324.9 L139.3,325.6 L139.5,327.1 L139.8,327.5 L140.0,328.4 L140.2,329.7 L140.4,330.6 L140.6,331.4 L140.8,332.4 L141.1,333.0 L141.3,334.1 L141.5,335.0 L141.7,335.6 L141.8,336.9 L142.0,337.6 L142.2,338.7 L142.3,339.4 L142.5,340.5 L142.7,341.1 L142.8,342.1 L143.0,343.2 L143.2,344.0 L143.3,345.0 L143.5,346.1 L143.8,346.7 L144.0,347.9 L144.3,348.8 L144.6,349.2 L144.8,350.1 L145.1,351.1 L145.4,351.8 L145.7,353.3 L145.9,354.0 L146.2,355.1 L146.7,355.6 L147.2,355.9 L147.7,356.3 L148.2,357.1 L148.7,357.7 L149.2,359.7 L149.6,360.6 L150.1,361.5 L150.5,361.4 L151.0,362.4 L151.4,363.6 L151.9,364.3 L152.3,365.1 L153.1,366.2 L153.8,366.8 L154.6,367.4 L155.4,367.1 L156.1,368.6 L156.9,368.6 L157.8,370.0 L158.7,369.8 L159.7,370.7 L160.6,370.3 L161.5,371.4 L162.4,370.7 L163.3,371.3 L164.2,371.3 L165.0,371.7 L165.9,372.3 L166.8,371.7 L167.7,372.6 L168.6,372.7 L169.6,372.1 L170.5,372.6 L171.5,372.4 L172.4,372.6 L173.4,372.3 L174.3,372.8 L175.3,372.6 L176.2,373.0 L177.2,372.9 L178.1,373.0 L179.1,373.0 L180.0,373.1" fill="none" stroke="#000" stroke-width="1.9" stroke-linejoin="round"/>
<path d="M121.9,241.0 L122.2,237.1 L123.3,237.1 L124.0,241.0 L127.0,243.0 L130.0,249.0 L131.0,254.0 L120.5,254.0 L120.5,246.0 Z" fill="#000" fill-opacity="0.75"/>
<path d="M119.3,254.0 L122.4,254.0 L121.8,272.0 L118.7,272.0 Z" fill="#000" fill-opacity="0.75"/>
<path d="M127.8,254.0 L131.0,254.0 L131.7,272.0 L128.7,272.0 Z" fill="#000" fill-opacity="0.75"/>
</g>
<rect x="102.7" y="249.9" width="2.2" height="123.5" fill="#000"/>
<line x1="102.7" y1="217.6" x2="269.3" y2="217.6" stroke="#555" stroke-width="1.7"/>
<line x1="268.6" y1="217.3" x2="268.6" y2="373.4" stroke="#4a4a4a" stroke-width="1.45"/>
<line x1="102.7" y1="216.8" x2="102.7" y2="374.4" stroke="#000" stroke-width="2.3"/>
<line x1="101.7" y1="373.4" x2="269.3" y2="373.4" stroke="#000" stroke-width="2.1"/>
<line x1="98.4" y1="373.4" x2="102.7" y2="373.4" stroke="#000" stroke-width="1.0"/>
<text transform="translate(96.1,373.0) rotate(-90) scale(1,1.3)" font-size="6.6" font-weight="bold" text-anchor="middle" stroke="#000" stroke-width="0.2">0</text>
<line x1="100.0" y1="368.2" x2="102.7" y2="368.2" stroke="#000" stroke-width="1.0"/>
<line x1="100.0" y1="363.0" x2="102.7" y2="363.0" stroke="#000" stroke-width="1.0"/>
<line x1="100.0" y1="357.8" x2="102.7" y2="357.8" stroke="#000" stroke-width="1.0"/>
<line x1="100.0" y1="352.6" x2="102.7" y2="352.6" stroke="#000" stroke-width="1.0"/>
<line x1="98.4" y1="347.4" x2="102.7" y2="347.4" stroke="#000" stroke-width="1.0"/>
<text transform="translate(96.1,347.0) rotate(-90) scale(1,1.3)" font-size="6.6" font-weight="bold" text-anchor="middle" stroke="#000" stroke-width="0.2">20</text>
<line x1="100.0" y1="342.2" x2="102.7" y2="342.2" stroke="#000" stroke-width="1.0"/>
<line x1="100.0" y1="337.0" x2="102.7" y2="337.0" stroke="#000" stroke-width="1.0"/>
<line x1="100.0" y1="331.8" x2="102.7" y2="331.8" stroke="#000" stroke-width="1.0"/>
<line x1="100.0" y1="326.6" x2="102.7" y2="326.6" stroke="#000" stroke-width="1.0"/>
<line x1="98.4" y1="321.4" x2="102.7" y2="321.4" stroke="#000" stroke-width="1.0"/>
<text transform="translate(96.1,321.0) rotate(-90) scale(1,1.3)" font-size="6.6" font-weight="bold" text-anchor="middle" stroke="#000" stroke-width="0.2">40</text>
<line x1="100.0" y1="316.2" x2="102.7" y2="316.2" stroke="#000" stroke-width="1.0"/>
<line x1="100.0" y1="311.0" x2="102.7" y2="311.0" stroke="#000" stroke-width="1.0"/>
<line x1="100.0" y1="305.8" x2="102.7" y2="305.8" stroke="#000" stroke-width="1.0"/>
<line x1="100.0" y1="300.6" x2="102.7" y2="300.6" stroke="#000" stroke-width="1.0"/>
<line x1="98.4" y1="295.4" x2="102.7" y2="295.4" stroke="#000" stroke-width="1.0"/>
<text transform="translate(96.1,295.0) rotate(-90) scale(1,1.3)" font-size="6.6" font-weight="bold" text-anchor="middle" stroke="#000" stroke-width="0.2">60</text>
<line x1="100.0" y1="290.1" x2="102.7" y2="290.1" stroke="#000" stroke-width="1.0"/>
<line x1="100.0" y1="284.9" x2="102.7" y2="284.9" stroke="#000" stroke-width="1.0"/>
<line x1="100.0" y1="279.7" x2="102.7" y2="279.7" stroke="#000" stroke-width="1.0"/>
<line x1="100.0" y1="274.5" x2="102.7" y2="274.5" stroke="#000" stroke-width="1.0"/>
<line x1="98.4" y1="269.3" x2="102.7" y2="269.3" stroke="#000" stroke-width="1.0"/>
<text transform="translate(96.1,268.9) rotate(-90) scale(1,1.3)" font-size="6.6" font-weight="bold" text-anchor="middle" stroke="#000" stroke-width="0.2">80</text>
<line x1="100.0" y1="264.1" x2="102.7" y2="264.1" stroke="#000" stroke-width="1.0"/>
<line x1="100.0" y1="258.9" x2="102.7" y2="258.9" stroke="#000" stroke-width="1.0"/>
<line x1="100.0" y1="253.7" x2="102.7" y2="253.7" stroke="#000" stroke-width="1.0"/>
<line x1="100.0" y1="248.5" x2="102.7" y2="248.5" stroke="#000" stroke-width="1.0"/>
<line x1="98.4" y1="243.3" x2="102.7" y2="243.3" stroke="#000" stroke-width="1.0"/>
<text transform="translate(96.1,242.9) rotate(-90) scale(1,1.3)" font-size="6.6" font-weight="bold" text-anchor="middle" stroke="#000" stroke-width="0.2">100</text>
<line x1="100.0" y1="238.1" x2="102.7" y2="238.1" stroke="#000" stroke-width="1.0"/>
<line x1="100.0" y1="232.9" x2="102.7" y2="232.9" stroke="#000" stroke-width="1.0"/>
<line x1="100.0" y1="227.7" x2="102.7" y2="227.7" stroke="#000" stroke-width="1.0"/>
<line x1="100.0" y1="222.5" x2="102.7" y2="222.5" stroke="#000" stroke-width="1.0"/>
<line x1="98.4" y1="217.3" x2="102.7" y2="217.3" stroke="#000" stroke-width="1.0"/>
<text transform="translate(96.1,216.9) rotate(-90) scale(1,1.3)" font-size="6.6" font-weight="bold" text-anchor="middle" stroke="#000" stroke-width="0.2">120</text>
<line x1="102.7" y1="373.4" x2="102.7" y2="377.4" stroke="#000" stroke-width="0.9"/>
<line x1="115.2" y1="373.4" x2="115.2" y2="375.7" stroke="#000" stroke-width="0.9"/>
<line x1="122.5" y1="373.4" x2="122.5" y2="375.7" stroke="#000" stroke-width="0.9"/>
<line x1="127.7" y1="373.4" x2="127.7" y2="375.7" stroke="#000" stroke-width="0.9"/>
<line x1="131.7" y1="373.4" x2="131.7" y2="375.7" stroke="#000" stroke-width="0.9"/>
<line x1="135.0" y1="373.4" x2="135.0" y2="375.7" stroke="#000" stroke-width="0.9"/>
<line x1="137.8" y1="373.4" x2="137.8" y2="375.7" stroke="#000" stroke-width="0.9"/>
<line x1="140.2" y1="373.4" x2="140.2" y2="375.7" stroke="#000" stroke-width="0.9"/>
<line x1="142.3" y1="373.4" x2="142.3" y2="375.7" stroke="#000" stroke-width="0.9"/>
<text transform="translate(103.2,385.8) scale(1,1.25)" font-size="7" font-weight="bold" text-anchor="middle" stroke="#000" stroke-width="0.2">10<tspan font-size="6" dy="-3.4">0</tspan></text>
<line x1="144.2" y1="373.4" x2="144.2" y2="377.4" stroke="#000" stroke-width="0.9"/>
<line x1="156.7" y1="373.4" x2="156.7" y2="375.7" stroke="#000" stroke-width="0.9"/>
<line x1="164.0" y1="373.4" x2="164.0" y2="375.7" stroke="#000" stroke-width="0.9"/>
<line x1="169.1" y1="373.4" x2="169.1" y2="375.7" stroke="#000" stroke-width="0.9"/>
<line x1="173.2" y1="373.4" x2="173.2" y2="375.7" stroke="#000" stroke-width="0.9"/>
<line x1="176.4" y1="373.4" x2="176.4" y2="375.7" stroke="#000" stroke-width="0.9"/>
<line x1="179.2" y1="373.4" x2="179.2" y2="375.7" stroke="#000" stroke-width="0.9"/>
<line x1="181.6" y1="373.4" x2="181.6" y2="375.7" stroke="#000" stroke-width="0.9"/>
<line x1="183.8" y1="373.4" x2="183.8" y2="375.7" stroke="#000" stroke-width="0.9"/>
<text transform="translate(144.7,385.8) scale(1,1.25)" font-size="7" font-weight="bold" text-anchor="middle" stroke="#000" stroke-width="0.2">10<tspan font-size="6" dy="-3.4">1</tspan></text>
<line x1="185.7" y1="373.4" x2="185.7" y2="377.4" stroke="#000" stroke-width="0.9"/>
<line x1="198.1" y1="373.4" x2="198.1" y2="375.7" stroke="#000" stroke-width="0.9"/>
<line x1="205.4" y1="373.4" x2="205.4" y2="375.7" stroke="#000" stroke-width="0.9"/>
<line x1="210.6" y1="373.4" x2="210.6" y2="375.7" stroke="#000" stroke-width="0.9"/>
<line x1="214.6" y1="373.4" x2="214.6" y2="375.7" stroke="#000" stroke-width="0.9"/>
<line x1="217.9" y1="373.4" x2="217.9" y2="375.7" stroke="#000" stroke-width="0.9"/>
<line x1="220.7" y1="373.4" x2="220.7" y2="375.7" stroke="#000" stroke-width="0.9"/>
<line x1="223.1" y1="373.4" x2="223.1" y2="375.7" stroke="#000" stroke-width="0.9"/>
<line x1="225.2" y1="373.4" x2="225.2" y2="375.7" stroke="#000" stroke-width="0.9"/>
<text transform="translate(186.2,385.8) scale(1,1.25)" font-size="7" font-weight="bold" text-anchor="middle" stroke="#000" stroke-width="0.2">10<tspan font-size="6" dy="-3.4">2</tspan></text>
<line x1="227.1" y1="373.4" x2="227.1" y2="377.4" stroke="#000" stroke-width="0.9"/>
<line x1="239.6" y1="373.4" x2="239.6" y2="375.7" stroke="#000" stroke-width="0.9"/>
<line x1="246.9" y1="373.4" x2="246.9" y2="375.7" stroke="#000" stroke-width="0.9"/>
<line x1="252.1" y1="373.4" x2="252.1" y2="375.7" stroke="#000" stroke-width="0.9"/>
<line x1="256.1" y1="373.4" x2="256.1" y2="375.7" stroke="#000" stroke-width="0.9"/>
<line x1="259.4" y1="373.4" x2="259.4" y2="375.7" stroke="#000" stroke-width="0.9"/>
<line x1="262.2" y1="373.4" x2="262.2" y2="375.7" stroke="#000" stroke-width="0.9"/>
<line x1="264.6" y1="373.4" x2="264.6" y2="375.7" stroke="#000" stroke-width="0.9"/>
<line x1="266.7" y1="373.4" x2="266.7" y2="375.7" stroke="#000" stroke-width="0.9"/>
<text transform="translate(227.6,385.8) scale(1,1.25)" font-size="7" font-weight="bold" text-anchor="middle" stroke="#000" stroke-width="0.2">10<tspan font-size="6" dy="-3.4">3</tspan></text>
<line x1="268.6" y1="373.4" x2="268.6" y2="377.4" stroke="#000" stroke-width="0.9"/>
<text transform="translate(269.1,385.8) scale(1,1.25)" font-size="7" font-weight="bold" text-anchor="middle" stroke="#000" stroke-width="0.2">10<tspan font-size="6" dy="-3.4">4</tspan></text>
<clipPath id="c3700"><rect x="345.3" y="217.4" width="171.1" height="159.0"/></clipPath>
<g clip-path="url(#c3700)">
<path d="M351.2,369.7 L352.8,368.8 L353.1,369.0 L353.5,367.5 L353.8,367.6 L354.2,365.1 L354.5,364.1 L354.8,364.5 L355.2,363.9 L355.5,363.4 L355.8,362.2 L356.2,360.1 L356.5,360.6 L356.9,358.4 L357.2,358.7 L357.4,358.1 L357.6,356.3 L357.7,355.2 L357.9,354.6 L358.1,353.9 L358.3,353.6 L358.5,351.4 L358.6,351.7 L358.8,350.4 L359.0,349.9 L359.2,348.1 L359.4,347.4 L359.5,347.3 L359.7,345.3 L359.9,344.7 L360.1,343.5 L360.3,343.8 L360.4,341.9 L360.6,341.6 L360.8,339.9 L361.0,339.6 L361.2,338.3 L361.3,338.1 L361.5,336.6 L361.7,336.5 L361.8,334.9 L362.0,333.7 L362.1,333.1 L362.2,331.9 L362.4,331.5 L362.5,330.1 L362.7,329.9 L362.8,329.1 L362.9,327.3 L363.1,327.0 L363.2,326.4 L363.4,325.4 L363.5,324.2 L363.6,322.8 L363.8,322.6 L363.9,321.3 L364.0,320.2 L364.2,319.0 L364.3,318.2 L364.4,317.8 L364.6,316.7 L364.7,315.8 L364.9,315.1 L365.0,313.6 L365.1,313.1 L365.2,312.4 L365.3,311.4 L365.4,310.2 L365.5,309.7 L365.6,308.0 L365.6,307.2 L365.7,306.5 L365.8,305.7 L365.9,304.7 L366.0,303.5 L366.1,302.5 L366.2,301.7 L366.3,300.6 L366.4,299.8 L366.5,299.3 L366.6,297.8 L366.6,297.6 L366.7,296.2 L366.8,295.2 L366.9,294.7 L367.0,293.8 L367.1,292.4 L367.2,291.7 L367.3,290.6 L367.3,289.8 L367.4,289.2 L367.5,287.9 L367.5,287.0 L367.6,286.5 L367.7,285.2 L367.7,284.3 L367.8,283.8 L367.8,282.5 L367.9,281.7 L368.0,281.0 L368.0,279.8 L368.1,279.0 L368.2,278.0 L368.2,276.9 L368.3,276.2 L368.4,275.5 L368.4,274.1 L368.5,273.7 L368.6,272.6 L368.6,271.6 L368.7,270.4 L368.8,269.8 L368.8,268.6 L368.9,268.1 L368.9,267.2 L369.0,266.1 L369.1,265.3 L369.1,264.2 L369.2,263.1 L369.3,262.7 L369.3,261.3 L369.4,260.4 L369.5,259.5 L369.6,258.4 L369.8,258.0 L369.9,256.5 L370.0,256.3 L370.1,255.5 L370.2,254.2 L370.4,253.4 L370.5,252.3 L370.6,250.9 L370.7,250.7 L370.9,249.2 L371.0,248.1 L371.1,247.6 L371.2,246.8 L371.3,245.6 L371.5,245.0 L371.6,243.3 L371.7,242.4 L371.9,242.5 L372.1,240.2 L372.3,240.0 L372.4,238.2 L372.6,238.4 L372.8,237.1 L373.0,235.9 L373.3,235.1 L373.6,233.2 L373.9,232.4 L374.1,231.5 L374.4,230.2 L374.7,231.5 L375.0,228.6 L375.2,229.9 L375.4,231.9 L375.5,232.3 L375.7,232.8 L375.9,234.7 L376.1,235.2 L376.3,236.8 L376.5,237.1 L376.6,237.8 L376.8,238.6 L377.0,239.8 L377.3,238.3 L377.5,237.3 L377.8,237.1 L378.1,235.9 L378.3,234.7 L378.6,234.3 L378.9,232.8 L379.1,232.3 L379.4,231.7 L379.4,232.6 L379.5,233.5 L379.5,234.5 L379.6,235.6 L379.6,236.5 L379.7,237.5 L379.7,238.3 L379.7,239.4 L379.8,240.4 L379.8,241.2 L379.9,242.2 L379.9,243.1 L380.0,243.9 L380.0,244.9 L380.0,246.1 L380.1,246.8 L380.1,247.8 L380.2,248.9 L380.2,249.8 L380.3,250.6 L380.3,251.5 L380.3,252.6 L380.4,253.6 L380.4,254.4 L380.5,255.4 L380.5,256.3 L380.6,257.3 L380.6,258.3 L380.7,259.2 L380.8,259.8 L380.9,260.8 L381.0,261.9 L381.1,262.8 L381.2,264.1 L381.2,264.7 L381.3,265.6 L381.4,266.4 L381.5,267.3 L381.6,268.9 L381.7,269.5 L381.8,270.8 L381.9,271.0 L382.0,271.9 L382.1,273.2 L382.2,274.0 L382.2,274.9 L382.3,275.9 L382.4,276.6 L382.5,278.0 L382.6,278.9 L382.7,279.9 L382.8,280.2 L383.0,282.1 L383.2,282.5 L383.4,283.3 L383.5,284.9 L383.7,285.6 L383.9,286.5 L384.1,286.9 L384.3,288.0 L384.4,289.2 L384.6,290.6 L384.8,291.4 L385.0,291.1 L385.1,293.1 L385.3,293.9 L385.4,294.7 L385.6,296.0 L385.7,296.8 L385.8,297.0 L386.0,297.9 L386.1,299.4 L386.2,300.2 L386.4,301.1 L386.5,301.6 L386.6,303.0 L386.8,304.0 L386.9,304.9 L387.1,305.4 L387.2,306.6 L387.3,307.5 L387.5,308.1 L387.6,309.9 L387.8,309.7 L387.9,311.4 L388.0,312.0 L388.2,313.3 L388.3,313.5 L388.4,314.4 L388.5,315.6 L388.7,316.6 L388.8,317.8 L388.9,318.3 L389.0,319.6 L389.1,321.0 L389.3,321.4 L389.4,322.7 L389.5,322.8 L389.6,324.3 L389.8,325.7 L389.9,326.4 L390.0,326.7 L390.1,328.5 L390.2,328.6 L390.4,329.8 L390.5,330.6 L390.6,332.0 L390.7,332.4 L390.9,333.4 L391.0,334.3 L391.1,335.8 L391.3,335.9 L391.4,336.9 L391.6,337.8 L391.7,339.5 L391.8,340.3 L392.0,341.4 L392.1,342.6 L392.2,342.7 L392.4,343.9 L392.5,345.2 L392.6,345.8 L392.7,346.9 L392.9,348.2 L393.0,348.5 L393.1,349.4 L393.2,350.5 L393.3,351.5 L393.4,352.9 L393.5,353.8 L393.7,354.6 L393.8,354.9 L393.9,354.6 L394.4,355.5 L394.9,358.5 L395.4,359.8 L395.8,358.2 L396.3,359.2 L396.8,359.9 L397.3,363.4 L397.9,362.2 L398.4,364.0 L399.0,364.8 L399.6,364.5 L400.2,364.9 L400.8,366.6 L401.3,368.4 L401.9,367.2 L402.8,368.3 L403.6,370.4 L404.5,370.6 L405.4,370.8 L406.3,369.2 L407.1,370.0 L408.0,371.3 L409.0,370.4 L410.0,370.8 L411.0,371.4 L412.0,371.8 L413.0,371.2 L414.0,371.3 L415.0,372.0" fill="none" stroke="#111" stroke-width="1.35" stroke-dasharray="1.4,1.1"/>
<path d="M349.3,364.3 L349.5,363.3 L349.7,362.0 L350.0,360.8 L350.2,360.0 L350.4,359.6 L350.6,357.9 L350.9,357.1 L351.3,356.6 L351.6,356.0 L351.9,354.4 L352.2,353.5 L352.6,352.6 L352.9,352.5 L353.2,351.0 L353.6,350.7 L353.9,349.4 L354.1,348.6 L354.3,347.8 L354.5,346.9 L354.7,345.7 L354.9,345.1 L355.1,343.8 L355.3,343.2 L355.5,342.3 L355.6,341.4 L355.8,340.5 L356.0,339.6 L356.2,338.8 L356.4,337.8 L356.6,336.7 L356.8,335.5 L357.0,334.6 L357.2,334.0 L357.3,333.2 L357.5,331.8 L357.6,331.0 L357.7,330.3 L357.8,329.3 L358.0,328.4 L358.1,327.6 L358.2,326.6 L358.4,325.6 L358.5,324.8 L358.6,323.6 L358.8,322.8 L358.9,322.2 L359.0,321.1 L359.1,320.3 L359.3,319.1 L359.4,318.4 L359.5,317.2 L359.6,316.3 L359.8,315.7 L359.9,314.4 L360.0,313.8 L360.1,312.8 L360.2,311.8 L360.4,310.7 L360.5,309.8 L360.6,309.1 L360.7,308.0 L360.9,307.3 L361.0,306.3 L361.1,305.2 L361.2,304.4 L361.3,303.5 L361.5,302.4 L361.6,301.6 L361.7,300.7 L361.8,299.7 L361.9,298.6 L362.0,298.0 L362.2,297.0 L362.3,296.0 L362.4,294.9 L362.5,294.2 L362.6,293.1 L362.7,292.2 L362.9,291.1 L363.0,290.1 L363.1,289.4 L363.2,288.3 L363.3,287.4 L363.4,286.7 L363.6,285.4 L363.7,284.8 L363.8,283.8 L363.9,282.9 L364.0,281.9 L364.0,281.0 L364.1,280.1 L364.1,279.2 L364.2,278.2 L364.2,277.2 L364.3,276.3 L364.4,275.3 L364.4,274.3 L364.5,273.5 L364.5,272.4 L364.6,271.5 L364.7,270.6 L364.7,269.8 L364.8,268.8 L364.8,267.9 L364.9,266.9 L364.9,265.9 L365.0,265.0 L365.1,264.2 L365.1,263.2 L365.2,262.3 L365.3,261.4 L365.3,260.4 L365.4,259.6 L365.5,258.5 L365.5,257.6 L365.6,256.8 L365.6,255.7 L365.7,255.0 L365.8,254.1 L365.8,253.2 L365.9,252.1 L366.0,251.1 L366.0,250.2 L366.1,249.2 L366.3,248.5 L366.5,247.7 L366.7,246.7 L366.8,245.7 L367.0,244.7 L367.2,243.6 L367.4,242.9 L367.6,242.2 L367.8,240.9 L367.9,240.2 L368.1,239.0 L368.3,238.1 L368.4,239.4 L368.5,240.3 L368.6,241.2 L368.7,242.3 L368.8,243.1 L368.9,243.9 L369.0,245.0 L369.2,243.9 L369.4,243.0 L369.6,241.9 L369.8,241.2 L370.0,240.1 L370.1,240.8 L370.2,242.1 L370.4,243.2 L370.5,244.0 L370.6,245.2 L370.8,246.2 L370.9,247.0 L371.0,248.9 L372.0,249.4 L372.9,248.7 L373.9,249.4 L374.0,250.2 L374.1,251.3 L374.2,252.1 L374.4,252.9 L374.5,254.0 L374.6,255.0 L374.7,256.0 L374.8,256.7 L374.9,258.0 L375.1,258.7 L375.2,259.8 L375.3,260.6 L375.4,261.4 L375.5,262.6 L375.6,263.5 L375.8,264.3 L375.9,265.2 L376.0,266.4 L376.1,267.1 L376.2,268.1 L376.2,269.1 L376.3,270.0 L376.4,270.8 L376.4,271.8 L376.5,272.7 L376.6,273.6 L376.6,274.4 L376.7,275.4 L376.7,276.3 L376.8,277.2 L376.9,278.1 L376.9,279.2 L377.0,280.1 L377.1,280.9 L377.1,281.9 L377.2,282.6 L377.3,283.9 L377.5,284.7 L377.6,285.5 L377.7,286.4 L377.8,287.3 L378.0,288.5 L378.1,289.4 L378.2,289.9 L378.4,290.8 L378.5,292.0 L378.6,292.6 L378.8,293.6 L378.9,294.5 L379.0,295.7 L379.1,296.6 L379.3,297.4 L379.4,298.1 L379.5,299.4 L379.7,300.0 L379.8,301.3 L379.9,301.9 L380.1,303.0 L380.2,303.9 L380.3,304.9 L380.5,305.5 L380.6,306.5 L380.8,307.3 L380.9,308.5 L381.0,309.4 L381.2,310.2 L381.3,311.3 L381.4,312.0 L381.6,312.8 L381.7,314.2 L381.9,314.6 L382.1,315.4 L382.3,316.8 L382.5,317.9 L382.7,318.3 L382.9,319.4 L383.1,320.1 L383.3,321.5 L383.4,322.3 L383.6,322.9 L383.8,323.8 L384.0,324.6 L384.2,325.6 L384.4,326.7 L384.6,327.4 L384.8,328.8 L385.0,329.5 L385.2,330.1 L385.4,331.6 L385.6,332.4 L385.8,332.9 L386.0,334.3 L386.2,335.1 L386.4,335.6 L386.6,336.7 L386.7,337.8 L386.9,338.7 L387.1,339.6 L387.3,340.2 L387.5,341.1 L387.7,342.4 L387.9,343.1 L388.1,343.8 L388.3,345.1 L388.6,346.0 L388.9,347.2 L389.1,347.6 L389.4,349.0 L389.7,350.0 L390.0,350.6 L390.3,351.4 L390.6,352.6 L390.9,353.1 L391.1,354.6 L391.4,355.6 L391.7,356.8 L392.2,356.6 L392.8,357.6 L393.4,359.3 L393.9,359.7 L394.4,359.9 L395.0,361.3 L395.4,361.0 L395.9,363.3 L396.3,363.8 L396.8,364.7 L397.2,364.9 L397.7,365.9 L398.1,367.7 L398.9,367.0 L399.6,368.7 L400.4,368.8 L401.1,368.8 L401.9,370.3 L402.8,369.7 L403.7,370.0 L404.7,371.1 L405.6,371.1 L406.5,371.7 L407.5,371.2 L408.6,371.6 L409.6,372.3 L410.6,372.3 L411.7,372.4 L412.7,372.4 L413.6,372.4 L414.6,372.2 L415.5,372.6 L416.5,372.7 L417.4,372.8 L418.4,372.5 L419.3,372.4 L420.3,372.8 L421.2,372.8 L422.2,372.7 L423.1,372.8 L424.1,372.8 L425.0,373.0" fill="none" stroke="#000" stroke-width="1.9" stroke-linejoin="round"/>
<path d="M367.5,243.0 L367.8,237.3 L368.7,237.3 L369.5,242.7 L372.0,244.0 L374.2,248.0 L374.8,250.4 L366.5,250.4 L366.5,246.0 Z" fill="#000" fill-opacity="0.75"/>
<path d="M365.0,250.4 L367.7,250.4 L367.2,265.0 L364.6,265.0 Z" fill="#000" fill-opacity="0.75"/>
<path d="M372.7,250.4 L375.8,250.4 L376.2,265.0 L373.4,265.0 Z" fill="#000" fill-opacity="0.75"/>
</g>
<rect x="348.3" y="250.5" width="2.2" height="122.7" fill="#000"/>
<line x1="348.3" y1="217.5" x2="514.1" y2="217.5" stroke="#555" stroke-width="1.7"/>
<line x1="513.4" y1="217.2" x2="513.4" y2="373.2" stroke="#4a4a4a" stroke-width="1.45"/>
<line x1="348.3" y1="216.7" x2="348.3" y2="374.2" stroke="#000" stroke-width="2.3"/>
<line x1="347.3" y1="373.2" x2="514.1" y2="373.2" stroke="#000" stroke-width="2.1"/>
<line x1="344.0" y1="373.2" x2="348.3" y2="373.2" stroke="#000" stroke-width="1.0"/>
<line x1="345.6" y1="368.0" x2="348.3" y2="368.0" stroke="#000" stroke-width="1.0"/>
<line x1="345.6" y1="362.8" x2="348.3" y2="362.8" stroke="#000" stroke-width="1.0"/>
<line x1="345.6" y1="357.6" x2="348.3" y2="357.6" stroke="#000" stroke-width="1.0"/>
<line x1="345.6" y1="352.4" x2="348.3" y2="352.4" stroke="#000" stroke-width="1.0"/>
<line x1="344.0" y1="347.2" x2="348.3" y2="347.2" stroke="#000" stroke-width="1.0"/>
<line x1="345.6" y1="342.0" x2="348.3" y2="342.0" stroke="#000" stroke-width="1.0"/>
<line x1="345.6" y1="336.8" x2="348.3" y2="336.8" stroke="#000" stroke-width="1.0"/>
<line x1="345.6" y1="331.6" x2="348.3" y2="331.6" stroke="#000" stroke-width="1.0"/>
<line x1="345.6" y1="326.4" x2="348.3" y2="326.4" stroke="#000" stroke-width="1.0"/>
<line x1="344.0" y1="321.2" x2="348.3" y2="321.2" stroke="#000" stroke-width="1.0"/>
<line x1="345.6" y1="316.0" x2="348.3" y2="316.0" stroke="#000" stroke-width="1.0"/>
<line x1="345.6" y1="310.8" x2="348.3" y2="310.8" stroke="#000" stroke-width="1.0"/>
<line x1="345.6" y1="305.6" x2="348.3" y2="305.6" stroke="#000" stroke-width="1.0"/>
<line x1="345.6" y1="300.4" x2="348.3" y2="300.4" stroke="#000" stroke-width="1.0"/>
<line x1="344.0" y1="295.2" x2="348.3" y2="295.2" stroke="#000" stroke-width="1.0"/>
<line x1="345.6" y1="290.0" x2="348.3" y2="290.0" stroke="#000" stroke-width="1.0"/>
<line x1="345.6" y1="284.8" x2="348.3" y2="284.8" stroke="#000" stroke-width="1.0"/>
<line x1="345.6" y1="279.6" x2="348.3" y2="279.6" stroke="#000" stroke-width="1.0"/>
<line x1="345.6" y1="274.4" x2="348.3" y2="274.4" stroke="#000" stroke-width="1.0"/>
<line x1="344.0" y1="269.2" x2="348.3" y2="269.2" stroke="#000" stroke-width="1.0"/>
<line x1="345.6" y1="264.0" x2="348.3" y2="264.0" stroke="#000" stroke-width="1.0"/>
<line x1="345.6" y1="258.8" x2="348.3" y2="258.8" stroke="#000" stroke-width="1.0"/>
<line x1="345.6" y1="253.6" x2="348.3" y2="253.6" stroke="#000" stroke-width="1.0"/>
<line x1="345.6" y1="248.4" x2="348.3" y2="248.4" stroke="#000" stroke-width="1.0"/>
<line x1="344.0" y1="243.2" x2="348.3" y2="243.2" stroke="#000" stroke-width="1.0"/>
<line x1="345.6" y1="238.0" x2="348.3" y2="238.0" stroke="#000" stroke-width="1.0"/>
<line x1="345.6" y1="232.8" x2="348.3" y2="232.8" stroke="#000" stroke-width="1.0"/>
<line x1="345.6" y1="227.6" x2="348.3" y2="227.6" stroke="#000" stroke-width="1.0"/>
<line x1="345.6" y1="222.4" x2="348.3" y2="222.4" stroke="#000" stroke-width="1.0"/>
<line x1="344.0" y1="217.2" x2="348.3" y2="217.2" stroke="#000" stroke-width="1.0"/>
<line x1="348.3" y1="373.2" x2="348.3" y2="377.2" stroke="#000" stroke-width="0.9"/>
<line x1="360.7" y1="373.2" x2="360.7" y2="375.5" stroke="#000" stroke-width="0.9"/>
<line x1="368.0" y1="373.2" x2="368.0" y2="375.5" stroke="#000" stroke-width="0.9"/>
<line x1="373.2" y1="373.2" x2="373.2" y2="375.5" stroke="#000" stroke-width="0.9"/>
<line x1="377.1" y1="373.2" x2="377.1" y2="375.5" stroke="#000" stroke-width="0.9"/>
<line x1="380.4" y1="373.2" x2="380.4" y2="375.5" stroke="#000" stroke-width="0.9"/>
<line x1="383.2" y1="373.2" x2="383.2" y2="375.5" stroke="#000" stroke-width="0.9"/>
<line x1="385.6" y1="373.2" x2="385.6" y2="375.5" stroke="#000" stroke-width="0.9"/>
<line x1="387.7" y1="373.2" x2="387.7" y2="375.5" stroke="#000" stroke-width="0.9"/>
<text transform="translate(348.8,385.6) scale(1,1.25)" font-size="7" font-weight="bold" text-anchor="middle" stroke="#000" stroke-width="0.2">10<tspan font-size="6" dy="-3.4">0</tspan></text>
<line x1="389.6" y1="373.2" x2="389.6" y2="377.2" stroke="#000" stroke-width="0.9"/>
<line x1="402.0" y1="373.2" x2="402.0" y2="375.5" stroke="#000" stroke-width="0.9"/>
<line x1="409.3" y1="373.2" x2="409.3" y2="375.5" stroke="#000" stroke-width="0.9"/>
<line x1="414.4" y1="373.2" x2="414.4" y2="375.5" stroke="#000" stroke-width="0.9"/>
<line x1="418.4" y1="373.2" x2="418.4" y2="375.5" stroke="#000" stroke-width="0.9"/>
<line x1="421.7" y1="373.2" x2="421.7" y2="375.5" stroke="#000" stroke-width="0.9"/>
<line x1="424.5" y1="373.2" x2="424.5" y2="375.5" stroke="#000" stroke-width="0.9"/>
<line x1="426.9" y1="373.2" x2="426.9" y2="375.5" stroke="#000" stroke-width="0.9"/>
<line x1="429.0" y1="373.2" x2="429.0" y2="375.5" stroke="#000" stroke-width="0.9"/>
<text transform="translate(390.1,385.6) scale(1,1.25)" font-size="7" font-weight="bold" text-anchor="middle" stroke="#000" stroke-width="0.2">10<tspan font-size="6" dy="-3.4">1</tspan></text>
<line x1="430.9" y1="373.2" x2="430.9" y2="377.2" stroke="#000" stroke-width="0.9"/>
<line x1="443.3" y1="373.2" x2="443.3" y2="375.5" stroke="#000" stroke-width="0.9"/>
<line x1="450.5" y1="373.2" x2="450.5" y2="375.5" stroke="#000" stroke-width="0.9"/>
<line x1="455.7" y1="373.2" x2="455.7" y2="375.5" stroke="#000" stroke-width="0.9"/>
<line x1="459.7" y1="373.2" x2="459.7" y2="375.5" stroke="#000" stroke-width="0.9"/>
<line x1="463.0" y1="373.2" x2="463.0" y2="375.5" stroke="#000" stroke-width="0.9"/>
<line x1="465.7" y1="373.2" x2="465.7" y2="375.5" stroke="#000" stroke-width="0.9"/>
<line x1="468.1" y1="373.2" x2="468.1" y2="375.5" stroke="#000" stroke-width="0.9"/>
<line x1="470.2" y1="373.2" x2="470.2" y2="375.5" stroke="#000" stroke-width="0.9"/>
<text transform="translate(431.4,385.6) scale(1,1.25)" font-size="7" font-weight="bold" text-anchor="middle" stroke="#000" stroke-width="0.2">10<tspan font-size="6" dy="-3.4">2</tspan></text>
<line x1="472.1" y1="373.2" x2="472.1" y2="377.2" stroke="#000" stroke-width="0.9"/>
<line x1="484.6" y1="373.2" x2="484.6" y2="375.5" stroke="#000" stroke-width="0.9"/>
<line x1="491.8" y1="373.2" x2="491.8" y2="375.5" stroke="#000" stroke-width="0.9"/>
<line x1="497.0" y1="373.2" x2="497.0" y2="375.5" stroke="#000" stroke-width="0.9"/>
<line x1="501.0" y1="373.2" x2="501.0" y2="375.5" stroke="#000" stroke-width="0.9"/>
<line x1="504.2" y1="373.2" x2="504.2" y2="375.5" stroke="#000" stroke-width="0.9"/>
<line x1="507.0" y1="373.2" x2="507.0" y2="375.5" stroke="#000" stroke-width="0.9"/>
<line x1="509.4" y1="373.2" x2="509.4" y2="375.5" stroke="#000" stroke-width="0.9"/>
<line x1="511.5" y1="373.2" x2="511.5" y2="375.5" stroke="#000" stroke-width="0.9"/>
<text transform="translate(472.6,385.6) scale(1,1.25)" font-size="7" font-weight="bold" text-anchor="middle" stroke="#000" stroke-width="0.2">10<tspan font-size="6" dy="-3.4">3</tspan></text>
<line x1="513.4" y1="373.2" x2="513.4" y2="377.2" stroke="#000" stroke-width="0.9"/>
<text transform="translate(513.9,385.6) scale(1,1.25)" font-size="7" font-weight="bold" text-anchor="middle" stroke="#000" stroke-width="0.2">10<tspan font-size="6" dy="-3.4">4</tspan></text>
<clipPath id="c1490"><rect x="98.8" y="472.9" width="171.2" height="159.3"/></clipPath>
<g clip-path="url(#c1490)">
<path d="M103.1,618.7 L103.6,619.5 L104.1,616.3 L104.7,615.1 L105.2,616.5 L105.7,615.7 L106.2,613.3 L106.6,611.9 L107.1,611.6 L107.5,611.5 L107.9,611.1 L108.3,609.9 L108.8,609.2 L109.2,607.4 L109.3,607.1 L109.5,606.3 L109.6,605.3 L109.7,604.5 L109.8,602.7 L110.0,601.7 L110.1,600.7 L110.2,599.8 L110.3,599.3 L110.5,598.8 L110.6,597.9 L110.7,596.8 L110.9,595.9 L111.0,595.0 L111.1,593.7 L111.2,593.0 L111.4,591.8 L111.5,590.4 L111.8,591.1 L112.2,588.4 L112.5,587.5 L112.8,588.6 L113.1,587.5 L113.5,584.8 L113.8,586.4 L114.3,583.6 L114.8,582.9 L115.2,580.6 L115.7,581.5 L116.2,579.7 L116.4,579.6 L116.6,577.7 L116.8,577.9 L117.0,576.3 L117.1,575.9 L117.3,574.7 L117.5,573.6 L117.7,572.8 L117.8,573.2 L118.0,573.7 L118.1,574.6 L118.2,576.1 L118.3,576.4 L118.5,578.2 L118.6,578.9 L118.7,579.5 L118.8,580.0 L119.0,581.8 L119.1,582.5 L119.2,583.5 L120.0,585.0 L120.8,584.5 L121.1,585.9 L121.5,586.1 L121.8,588.7 L122.1,587.8 L122.4,588.9 L122.8,588.9 L123.1,590.0 L123.4,591.4 L123.7,591.9 L124.0,592.8 L124.2,594.0 L124.5,594.6 L124.8,596.2 L125.1,598.1 L125.4,600.2 L126.0,597.1 L126.6,597.6 L127.1,603.1 L127.7,602.1 L127.9,603.2 L128.1,603.7 L128.3,605.1 L128.4,604.6 L128.6,606.4 L128.8,606.8 L129.0,607.6 L129.2,607.4 L129.7,608.4 L130.2,609.4 L130.8,612.2 L131.3,612.3 L131.8,612.5 L132.3,615.4 L132.8,614.3 L133.3,614.0 L133.9,617.4 L134.4,618.3 L134.9,617.0 L135.4,620.0 L136.4,619.4 L137.5,617.1 L138.5,618.7 L139.5,619.2 L140.5,620.3 L141.5,619.6 L142.5,620.0 L143.6,620.1 L144.6,617.3 L145.1,616.2 L145.7,617.7 L146.2,614.3 L146.7,616.6 L147.2,618.5 L147.7,617.3 L148.2,618.2 L148.7,619.4 L149.2,620.2 L150.2,620.6 L151.3,621.5 L152.3,620.5 L153.2,621.9 L154.1,621.9 L155.1,621.6 L156.0,619.1 L156.9,620.5 L157.8,620.3 L158.7,618.2 L159.7,619.0 L160.6,617.4 L161.5,616.5 L162.5,614.9 L163.6,614.9 L164.6,614.6 L165.4,616.9 L166.1,614.2 L166.9,614.9 L167.7,611.9 L168.4,612.0 L169.2,609.9 L170.1,610.6 L171.0,610.8 L172.0,611.7 L172.9,609.8 L173.8,612.2 L174.8,611.2 L175.8,612.0 L176.7,609.9 L177.7,611.1 L178.6,609.5 L179.6,611.9 L180.6,609.7 L181.5,607.8 L182.3,611.9 L183.1,611.1 L183.8,613.1 L184.6,612.3 L185.4,610.4 L186.3,609.9 L187.3,613.4 L188.2,610.2 L189.2,609.3 L190.2,609.5 L191.1,611.0 L192.1,608.1 L193.1,606.0 L194.1,610.3 L195.0,606.3 L195.9,605.5 L196.9,607.5 L197.3,607.2 L197.7,604.2 L198.0,604.1 L198.4,603.8 L198.8,600.8 L199.3,603.2 L199.8,604.7 L200.2,602.9 L200.7,603.7 L201.2,607.7 L201.7,609.6 L202.7,606.6 L203.6,603.6 L204.6,606.4 L205.3,602.3 L206.1,603.1 L206.8,602.8 L207.5,603.1 L208.2,602.1 L208.9,603.2 L209.7,606.1 L210.4,604.9 L211.1,605.0 L211.9,602.3 L212.6,604.5 L213.3,600.8 L214.3,603.9 L215.2,602.1 L216.2,605.3 L217.1,605.1 L218.1,606.6 L219.0,603.4 L219.7,602.1 L220.4,605.4 L221.2,603.9 L221.9,601.7 L222.2,601.6 L222.5,599.1 L222.9,600.9 L223.2,597.6 L223.5,597.2 L223.8,596.1 L224.2,596.5 L224.5,594.1 L224.8,594.8 L225.0,594.8 L225.1,596.4 L225.3,597.0 L225.5,597.6 L225.6,599.1 L225.8,600.7 L226.3,600.6 L226.7,601.5 L227.2,601.3 L227.8,603.4 L228.3,605.2 L228.6,606.4 L228.8,606.7 L229.1,607.1 L229.3,608.9 L229.5,610.5 L229.7,611.3 L229.9,612.4 L230.2,612.2 L230.4,613.6 L230.6,614.4 L231.0,616.7 L231.4,615.8 L231.8,616.4 L232.2,618.9 L232.6,618.4 L233.0,620.3 L233.8,621.5 L234.7,622.9 L235.5,621.0 L236.3,623.0 L237.1,623.7 L237.9,623.6 L238.8,624.5 L239.6,625.4 L240.4,625.1 L241.2,625.7 L242.1,626.3 L243.1,625.5 L244.1,626.6 L245.0,625.5 L245.9,626.6 L246.9,627.3 L247.9,626.2 L248.8,627.6 L249.8,626.4 L250.8,627.2 L251.7,626.8 L252.7,627.8 L253.6,627.4 L254.6,626.4 L255.6,627.3 L256.5,628.0 L257.5,627.3 L258.5,627.1 L259.4,626.3 L260.4,627.4 L261.3,627.3 L262.3,626.8 L263.2,626.1 L264.2,625.4 L265.2,626.2 L266.2,625.2" fill="none" stroke="#111" stroke-width="1.35" stroke-dasharray="1.4,1.1"/>
<path d="M102.8,595.0 L103.0,593.8 L103.3,592.8 L103.5,592.1 L103.8,590.8 L104.0,590.0 L104.3,589.1 L104.5,588.5 L104.7,587.1 L104.9,586.7 L105.2,585.3 L105.4,584.7 L105.5,583.6 L105.6,582.8 L105.7,581.7 L105.8,581.0 L105.8,580.0 L105.9,579.2 L106.0,578.3 L106.1,577.4 L106.2,576.5 L106.3,575.7 L106.4,574.7 L106.5,573.9 L106.5,572.8 L106.6,572.1 L106.7,571.1 L106.8,570.3 L106.9,569.3 L107.0,568.4 L107.1,567.3 L107.2,566.7 L107.2,565.7 L107.3,564.9 L107.4,563.8 L107.5,562.9 L107.6,562.0 L107.6,561.1 L107.7,560.1 L107.7,559.3 L107.8,558.4 L107.8,557.5 L107.9,556.5 L108.0,555.6 L108.0,554.7 L108.1,553.8 L108.1,552.8 L108.2,551.9 L108.2,551.0 L108.3,550.0 L108.4,549.2 L108.5,548.1 L108.5,547.1 L108.6,546.3 L108.7,545.3 L108.8,544.5 L108.9,543.7 L108.9,542.7 L109.0,541.8 L109.1,540.8 L109.2,540.0 L109.3,539.0 L109.3,538.1 L109.4,537.3 L109.5,536.3 L109.6,535.5 L109.7,534.6 L109.8,533.5 L109.8,532.5 L109.9,531.7 L110.0,530.7 L110.1,529.8 L110.2,528.7 L110.3,527.8 L110.4,527.0 L110.4,526.2 L110.5,525.0 L110.6,524.2 L110.7,523.4 L110.8,522.5 L110.9,521.3 L111.0,520.6 L111.0,519.7 L111.1,518.8 L111.2,517.8 L111.3,516.9 L111.4,516.1 L111.5,515.0 L111.5,514.3 L111.6,513.3 L111.7,512.4 L111.8,511.5 L111.9,510.4 L112.0,509.6 L112.1,508.8 L112.1,507.7 L112.2,506.7 L112.3,505.9 L112.4,504.9 L112.5,504.0 L112.6,503.1 L112.7,502.0 L112.7,501.1 L112.8,500.2 L112.9,499.3 L113.0,498.4 L113.0,497.5 L113.0,496.6 L113.0,495.6 L113.0,494.7 L113.0,493.8 L113.0,492.9 L113.0,491.9 L113.0,491.0 L113.0,489.4 L113.6,490.3 L114.2,489.4 L114.8,487.8 L114.9,486.8 L114.9,485.9 L115.0,485.0 L115.1,484.1 L115.1,483.2 L115.2,482.2 L115.3,481.3 L115.3,480.3 L115.4,479.8 L115.6,478.7 L115.7,477.6 L115.9,476.7 L116.1,476.1 L116.3,474.9 L116.4,473.8 L116.6,474.0 L117.6,472.1 L118.5,473.1 L119.5,473.0 L119.5,474.0 L119.5,474.9 L119.5,475.9 L119.5,476.8 L119.5,477.8 L119.5,478.7 L119.5,479.7 L119.5,480.6 L119.5,481.6 L119.5,482.5 L119.5,483.5 L119.5,484.4 L119.5,485.4 L119.6,486.2 L119.7,487.3 L119.7,488.2 L119.8,489.3 L119.9,490.2 L120.0,491.2 L120.1,492.2 L120.1,493.1 L120.2,494.0 L120.3,494.8 L120.4,495.7 L120.5,496.9 L120.5,497.6 L120.6,498.7 L120.7,499.7 L120.8,500.5 L120.9,501.3 L121.0,502.4 L121.1,503.4 L121.2,504.0 L121.3,505.0 L121.3,506.1 L121.4,506.8 L121.5,507.7 L121.6,508.8 L121.7,509.6 L121.8,510.5 L121.9,511.5 L122.0,512.2 L122.1,513.3 L122.2,514.3 L122.3,515.0 L122.4,516.1 L122.5,516.9 L122.5,518.0 L122.6,518.6 L122.7,519.7 L122.8,520.5 L122.9,521.5 L123.0,522.5 L123.1,523.2 L123.2,524.1 L123.3,525.2 L123.4,526.1 L123.4,527.0 L123.5,527.8 L123.6,528.9 L123.7,529.7 L123.8,530.8 L123.9,531.5 L124.0,532.4 L124.0,533.5 L124.1,534.5 L124.2,535.4 L124.3,536.4 L124.4,537.2 L124.4,538.1 L124.5,539.0 L124.6,539.9 L124.7,540.8 L124.7,541.7 L124.8,542.8 L124.9,543.6 L125.0,544.5 L125.0,545.3 L125.1,546.3 L125.2,547.2 L125.3,548.1 L125.3,549.0 L125.4,550.1 L125.5,550.9 L125.5,551.7 L125.6,552.8 L125.7,553.7 L125.7,554.6 L125.8,555.5 L125.9,556.3 L125.9,557.2 L126.0,558.2 L126.1,559.1 L126.1,559.9 L126.2,560.9 L126.2,561.8 L126.3,562.8 L126.4,563.6 L126.4,564.6 L126.5,565.3 L126.6,566.2 L126.6,567.3 L126.7,568.1 L126.8,568.9 L126.8,569.9 L126.9,570.7 L127.0,571.9 L127.1,572.7 L127.2,573.7 L127.3,574.5 L127.4,575.3 L127.5,576.2 L127.6,577.3 L127.7,578.2 L127.7,579.1 L127.8,579.7 L127.9,580.7 L128.0,581.8 L128.1,582.5 L128.2,583.6 L128.3,584.4 L128.4,585.1 L128.5,586.0 L128.7,587.0 L128.8,588.1 L128.9,588.8 L129.1,589.8 L129.2,591.0 L129.4,591.7 L129.6,592.6 L129.7,593.4 L129.8,594.4 L130.0,595.1 L130.2,596.5 L130.5,597.4 L130.8,598.6 L131.0,599.4 L131.2,600.6 L131.5,601.4 L131.7,602.7 L131.8,603.4 L132.0,604.3 L132.1,605.4 L132.3,606.0 L132.5,606.9 L132.6,608.0 L132.8,609.1 L132.9,610.0 L133.1,611.0 L133.3,611.7 L133.6,613.0 L133.8,613.7 L134.1,614.6 L134.3,616.2 L134.6,616.7 L135.1,618.4 L135.5,618.5 L136.0,620.3 L136.4,619.9 L136.9,620.6 L137.8,623.0 L138.7,622.1 L139.7,623.5 L140.6,624.0 L141.5,623.5 L142.4,623.3 L143.4,622.7 L144.3,623.6 L145.3,624.0 L146.2,623.0 L147.1,623.4 L148.0,624.7 L149.0,624.3 L149.9,624.7 L150.8,624.9 L151.8,625.0 L152.7,624.9 L153.7,625.7 L154.7,625.9 L155.6,626.3 L156.6,626.6 L157.5,625.8 L158.5,626.8 L159.5,625.9 L160.5,625.4 L161.5,625.8 L162.4,625.9 L163.3,625.9 L164.2,625.0 L165.0,626.3 L165.9,626.5 L166.8,625.9 L167.7,626.4 L168.6,627.0 L169.6,626.8 L170.5,626.6 L171.5,625.9 L172.4,626.9 L173.4,626.9 L174.3,626.7 L175.3,626.2 L176.2,626.8 L177.2,626.7 L178.1,626.7 L179.1,627.3 L180.0,626.5 L180.9,626.8 L181.8,627.0 L182.7,627.1 L183.6,626.4 L184.5,626.6 L185.5,627.0 L186.4,626.2 L187.3,626.8 L188.2,627.2 L189.1,626.3 L190.0,626.3 L190.9,626.1 L191.8,626.8 L192.7,626.4 L193.6,626.7 L194.5,626.9 L195.5,626.9 L196.4,627.4 L197.3,626.6 L198.2,626.9 L199.1,627.3 L200.0,627.5 L200.9,627.6 L201.8,627.6 L202.7,627.0 L203.6,626.7 L204.5,627.1 L205.5,627.2 L206.4,627.3 L207.3,627.0 L208.2,627.3 L209.1,627.8 L210.0,627.5 L210.9,627.6 L211.8,627.5 L212.7,627.2 L213.6,627.9 L214.5,627.5 L215.5,627.9 L216.4,627.8 L217.3,627.8 L218.2,628.3 L219.1,628.5 L220.0,628.2" fill="none" stroke="#000" stroke-width="1.9" stroke-linejoin="round"/>
<path d="M115.9,472.8 L120.1,472.8 L120.2,487.0 L119.0,490.0 L116.0,490.0 Z" fill="#000" fill-opacity="1.00"/>
<path d="M112.3,488.6 L116.1,488.6 L116.1,499.5 L112.3,499.5 Z" fill="#000" fill-opacity="1.00"/>
</g>
<rect x="101.8" y="540.0" width="2.2" height="89.0" fill="#000"/>
<line x1="101.8" y1="473.0" x2="267.7" y2="473.0" stroke="#555" stroke-width="1.7"/>
<line x1="267.0" y1="472.7" x2="267.0" y2="629.0" stroke="#4a4a4a" stroke-width="1.45"/>
<line x1="101.8" y1="472.2" x2="101.8" y2="630.0" stroke="#000" stroke-width="2.3"/>
<line x1="100.8" y1="629.0" x2="267.7" y2="629.0" stroke="#000" stroke-width="2.1"/>
<line x1="97.5" y1="629.0" x2="101.8" y2="629.0" stroke="#000" stroke-width="1.0"/>
<text transform="translate(95.2,628.6) rotate(-90) scale(1,1.3)" font-size="6.6" font-weight="bold" text-anchor="middle" stroke="#000" stroke-width="0.2">0</text>
<line x1="99.1" y1="623.8" x2="101.8" y2="623.8" stroke="#000" stroke-width="1.0"/>
<line x1="99.1" y1="618.6" x2="101.8" y2="618.6" stroke="#000" stroke-width="1.0"/>
<line x1="99.1" y1="613.4" x2="101.8" y2="613.4" stroke="#000" stroke-width="1.0"/>
<line x1="99.1" y1="608.2" x2="101.8" y2="608.2" stroke="#000" stroke-width="1.0"/>
<line x1="97.5" y1="603.0" x2="101.8" y2="603.0" stroke="#000" stroke-width="1.0"/>
<text transform="translate(95.2,602.6) rotate(-90) scale(1,1.3)" font-size="6.6" font-weight="bold" text-anchor="middle" stroke="#000" stroke-width="0.2">20</text>
<line x1="99.1" y1="597.7" x2="101.8" y2="597.7" stroke="#000" stroke-width="1.0"/>
<line x1="99.1" y1="592.5" x2="101.8" y2="592.5" stroke="#000" stroke-width="1.0"/>
<line x1="99.1" y1="587.3" x2="101.8" y2="587.3" stroke="#000" stroke-width="1.0"/>
<line x1="99.1" y1="582.1" x2="101.8" y2="582.1" stroke="#000" stroke-width="1.0"/>
<line x1="97.5" y1="576.9" x2="101.8" y2="576.9" stroke="#000" stroke-width="1.0"/>
<text transform="translate(95.2,576.5) rotate(-90) scale(1,1.3)" font-size="6.6" font-weight="bold" text-anchor="middle" stroke="#000" stroke-width="0.2">40</text>
<line x1="99.1" y1="571.7" x2="101.8" y2="571.7" stroke="#000" stroke-width="1.0"/>
<line x1="99.1" y1="566.5" x2="101.8" y2="566.5" stroke="#000" stroke-width="1.0"/>
<line x1="99.1" y1="561.3" x2="101.8" y2="561.3" stroke="#000" stroke-width="1.0"/>
<line x1="99.1" y1="556.1" x2="101.8" y2="556.1" stroke="#000" stroke-width="1.0"/>
<line x1="97.5" y1="550.9" x2="101.8" y2="550.9" stroke="#000" stroke-width="1.0"/>
<text transform="translate(95.2,550.5) rotate(-90) scale(1,1.3)" font-size="6.6" font-weight="bold" text-anchor="middle" stroke="#000" stroke-width="0.2">60</text>
<line x1="99.1" y1="545.6" x2="101.8" y2="545.6" stroke="#000" stroke-width="1.0"/>
<line x1="99.1" y1="540.4" x2="101.8" y2="540.4" stroke="#000" stroke-width="1.0"/>
<line x1="99.1" y1="535.2" x2="101.8" y2="535.2" stroke="#000" stroke-width="1.0"/>
<line x1="99.1" y1="530.0" x2="101.8" y2="530.0" stroke="#000" stroke-width="1.0"/>
<line x1="97.5" y1="524.8" x2="101.8" y2="524.8" stroke="#000" stroke-width="1.0"/>
<text transform="translate(95.2,524.4) rotate(-90) scale(1,1.3)" font-size="6.6" font-weight="bold" text-anchor="middle" stroke="#000" stroke-width="0.2">80</text>
<line x1="99.1" y1="519.6" x2="101.8" y2="519.6" stroke="#000" stroke-width="1.0"/>
<line x1="99.1" y1="514.4" x2="101.8" y2="514.4" stroke="#000" stroke-width="1.0"/>
<line x1="99.1" y1="509.2" x2="101.8" y2="509.2" stroke="#000" stroke-width="1.0"/>
<line x1="99.1" y1="504.0" x2="101.8" y2="504.0" stroke="#000" stroke-width="1.0"/>
<line x1="97.5" y1="498.8" x2="101.8" y2="498.8" stroke="#000" stroke-width="1.0"/>
<text transform="translate(95.2,498.4) rotate(-90) scale(1,1.3)" font-size="6.6" font-weight="bold" text-anchor="middle" stroke="#000" stroke-width="0.2">100</text>
<line x1="99.1" y1="493.5" x2="101.8" y2="493.5" stroke="#000" stroke-width="1.0"/>
<line x1="99.1" y1="488.3" x2="101.8" y2="488.3" stroke="#000" stroke-width="1.0"/>
<line x1="99.1" y1="483.1" x2="101.8" y2="483.1" stroke="#000" stroke-width="1.0"/>
<line x1="99.1" y1="477.9" x2="101.8" y2="477.9" stroke="#000" stroke-width="1.0"/>
<line x1="97.5" y1="472.7" x2="101.8" y2="472.7" stroke="#000" stroke-width="1.0"/>
<text transform="translate(95.2,472.3) rotate(-90) scale(1,1.3)" font-size="6.6" font-weight="bold" text-anchor="middle" stroke="#000" stroke-width="0.2">120</text>
<line x1="101.8" y1="629.0" x2="101.8" y2="633.0" stroke="#000" stroke-width="0.9"/>
<line x1="114.2" y1="629.0" x2="114.2" y2="631.3" stroke="#000" stroke-width="0.9"/>
<line x1="121.5" y1="629.0" x2="121.5" y2="631.3" stroke="#000" stroke-width="0.9"/>
<line x1="126.7" y1="629.0" x2="126.7" y2="631.3" stroke="#000" stroke-width="0.9"/>
<line x1="130.7" y1="629.0" x2="130.7" y2="631.3" stroke="#000" stroke-width="0.9"/>
<line x1="133.9" y1="629.0" x2="133.9" y2="631.3" stroke="#000" stroke-width="0.9"/>
<line x1="136.7" y1="629.0" x2="136.7" y2="631.3" stroke="#000" stroke-width="0.9"/>
<line x1="139.1" y1="629.0" x2="139.1" y2="631.3" stroke="#000" stroke-width="0.9"/>
<line x1="141.2" y1="629.0" x2="141.2" y2="631.3" stroke="#000" stroke-width="0.9"/>
<text transform="translate(102.3,641.4) scale(1,1.25)" font-size="7" font-weight="bold" text-anchor="middle" stroke="#000" stroke-width="0.2">10<tspan font-size="6" dy="-3.4">0</tspan></text>
<line x1="143.1" y1="629.0" x2="143.1" y2="633.0" stroke="#000" stroke-width="0.9"/>
<line x1="155.5" y1="629.0" x2="155.5" y2="631.3" stroke="#000" stroke-width="0.9"/>
<line x1="162.8" y1="629.0" x2="162.8" y2="631.3" stroke="#000" stroke-width="0.9"/>
<line x1="168.0" y1="629.0" x2="168.0" y2="631.3" stroke="#000" stroke-width="0.9"/>
<line x1="172.0" y1="629.0" x2="172.0" y2="631.3" stroke="#000" stroke-width="0.9"/>
<line x1="175.2" y1="629.0" x2="175.2" y2="631.3" stroke="#000" stroke-width="0.9"/>
<line x1="178.0" y1="629.0" x2="178.0" y2="631.3" stroke="#000" stroke-width="0.9"/>
<line x1="180.4" y1="629.0" x2="180.4" y2="631.3" stroke="#000" stroke-width="0.9"/>
<line x1="182.5" y1="629.0" x2="182.5" y2="631.3" stroke="#000" stroke-width="0.9"/>
<text transform="translate(143.6,641.4) scale(1,1.25)" font-size="7" font-weight="bold" text-anchor="middle" stroke="#000" stroke-width="0.2">10<tspan font-size="6" dy="-3.4">1</tspan></text>
<line x1="184.4" y1="629.0" x2="184.4" y2="633.0" stroke="#000" stroke-width="0.9"/>
<line x1="196.8" y1="629.0" x2="196.8" y2="631.3" stroke="#000" stroke-width="0.9"/>
<line x1="204.1" y1="629.0" x2="204.1" y2="631.3" stroke="#000" stroke-width="0.9"/>
<line x1="209.3" y1="629.0" x2="209.3" y2="631.3" stroke="#000" stroke-width="0.9"/>
<line x1="213.3" y1="629.0" x2="213.3" y2="631.3" stroke="#000" stroke-width="0.9"/>
<line x1="216.5" y1="629.0" x2="216.5" y2="631.3" stroke="#000" stroke-width="0.9"/>
<line x1="219.3" y1="629.0" x2="219.3" y2="631.3" stroke="#000" stroke-width="0.9"/>
<line x1="221.7" y1="629.0" x2="221.7" y2="631.3" stroke="#000" stroke-width="0.9"/>
<line x1="223.8" y1="629.0" x2="223.8" y2="631.3" stroke="#000" stroke-width="0.9"/>
<text transform="translate(184.9,641.4) scale(1,1.25)" font-size="7" font-weight="bold" text-anchor="middle" stroke="#000" stroke-width="0.2">10<tspan font-size="6" dy="-3.4">2</tspan></text>
<line x1="225.7" y1="629.0" x2="225.7" y2="633.0" stroke="#000" stroke-width="0.9"/>
<line x1="238.1" y1="629.0" x2="238.1" y2="631.3" stroke="#000" stroke-width="0.9"/>
<line x1="245.4" y1="629.0" x2="245.4" y2="631.3" stroke="#000" stroke-width="0.9"/>
<line x1="250.6" y1="629.0" x2="250.6" y2="631.3" stroke="#000" stroke-width="0.9"/>
<line x1="254.6" y1="629.0" x2="254.6" y2="631.3" stroke="#000" stroke-width="0.9"/>
<line x1="257.8" y1="629.0" x2="257.8" y2="631.3" stroke="#000" stroke-width="0.9"/>
<line x1="260.6" y1="629.0" x2="260.6" y2="631.3" stroke="#000" stroke-width="0.9"/>
<line x1="263.0" y1="629.0" x2="263.0" y2="631.3" stroke="#000" stroke-width="0.9"/>
<line x1="265.1" y1="629.0" x2="265.1" y2="631.3" stroke="#000" stroke-width="0.9"/>
<text transform="translate(226.2,641.4) scale(1,1.25)" font-size="7" font-weight="bold" text-anchor="middle" stroke="#000" stroke-width="0.2">10<tspan font-size="6" dy="-3.4">3</tspan></text>
<line x1="267.0" y1="629.0" x2="267.0" y2="633.0" stroke="#000" stroke-width="0.9"/>
<text transform="translate(267.5,641.4) scale(1,1.25)" font-size="7" font-weight="bold" text-anchor="middle" stroke="#000" stroke-width="0.2">10<tspan font-size="6" dy="-3.4">4</tspan></text>
<line x1="140.0" y1="592.9" x2="265.4" y2="592.9" stroke="#2a2a2a" stroke-width="1.4"/>
<line x1="140.0" y1="585.9" x2="140.0" y2="599.9" stroke="#444" stroke-width="1.9"/>
<line x1="265.4" y1="585.9" x2="265.4" y2="599.9" stroke="#444" stroke-width="1.9"/>
<clipPath id="c3951"><rect x="344.7" y="474.3" width="172.0" height="158.4"/></clipPath>
<g clip-path="url(#c3951)">
<path d="M349.0,625.0 L350.0,625.3 L351.0,625.9 L351.7,624.8 L352.3,623.4 L353.0,621.7 L353.7,622.4 L354.3,620.9 L355.0,621.2 L355.8,621.1 L356.6,621.5 L357.5,618.0 L358.3,618.5 L358.5,617.5 L358.7,616.6 L358.9,616.3 L359.1,614.8 L359.3,614.4 L359.5,613.6 L359.7,612.9 L359.9,611.1 L360.1,609.8 L360.3,609.5 L360.4,608.4 L360.6,607.9 L360.7,606.2 L360.9,605.8 L361.0,605.2 L361.1,603.8 L361.3,602.9 L361.4,601.8 L361.6,600.3 L361.7,600.6 L362.0,600.1 L362.3,598.8 L362.6,596.0 L362.8,596.1 L363.1,596.2 L363.4,594.6 L363.7,593.4 L364.0,593.2 L364.2,590.4 L364.5,590.6 L364.7,590.3 L365.0,589.0 L365.3,587.9 L365.5,586.8 L365.8,585.0 L366.0,585.5 L366.3,585.0 L366.5,583.5 L366.8,582.1 L367.0,582.3 L367.2,580.1 L367.5,580.1 L367.7,578.3 L368.0,578.3 L368.2,577.5 L368.5,575.0 L368.8,575.2 L369.0,573.6 L369.3,573.4 L369.4,572.1 L369.4,571.2 L369.5,570.4 L369.5,569.2 L369.6,568.5 L369.6,567.4 L369.7,566.4 L369.7,565.5 L369.8,564.5 L369.8,563.6 L369.9,562.3 L369.9,561.6 L370.0,560.3 L370.0,559.4 L370.1,558.4 L370.1,557.4 L370.2,556.6 L370.2,555.7 L370.5,555.6 L370.7,552.6 L371.0,552.1 L371.2,551.3 L371.5,550.2 L371.7,550.9 L372.0,548.9 L373.5,550.4 L374.2,550.1 L374.8,553.8 L375.5,552.8 L375.5,553.8 L375.5,554.8 L375.5,555.8 L375.5,556.8 L375.5,557.7 L375.5,558.7 L375.5,559.7 L375.5,560.7 L375.5,561.3 L375.9,562.3 L376.4,562.5 L376.9,565.9 L377.3,567.3 L378.6,564.9 L380.0,567.9 L380.8,564.6 L381.6,561.4 L382.3,563.9 L383.1,562.2 L383.4,563.8 L383.6,563.3 L383.9,565.6 L384.1,567.3 L384.4,566.9 L384.5,568.5 L384.7,569.3 L384.9,569.8 L385.0,571.5 L385.1,572.0 L385.3,570.5 L386.0,571.9 L386.6,571.5 L387.3,569.6 L388.0,570.1 L388.3,572.7 L388.7,571.8 L389.0,573.3 L389.4,574.1 L389.7,574.8 L390.1,574.6 L390.4,575.8 L390.8,577.7 L391.1,579.6 L391.5,579.3 L391.7,580.2 L391.9,581.8 L392.1,583.6 L392.3,583.2 L392.5,584.4 L392.7,586.3 L392.9,586.5 L393.1,586.9 L393.5,588.4 L393.9,588.6 L394.2,591.2 L394.6,591.2 L395.0,592.9 L395.4,593.6 L395.9,593.6 L396.3,593.5 L396.8,596.0 L397.2,597.5 L397.7,596.9 L398.2,599.6 L398.6,600.3 L399.1,600.6 L399.5,600.5 L400.0,603.7 L400.7,602.6 L401.4,603.3 L402.1,603.8 L402.8,607.0 L403.5,607.3 L404.4,607.1 L405.2,607.1 L406.0,609.3 L406.9,611.1 L407.8,606.5 L408.6,611.2 L409.5,609.4 L410.4,608.7 L411.2,609.5 L411.9,610.3 L412.7,608.7 L413.3,604.4 L413.9,605.3 L414.4,604.7 L415.0,605.3 L415.4,603.7 L415.8,607.0 L416.1,606.3 L416.5,606.4 L416.9,607.5 L417.3,607.7 L418.2,610.1 L419.1,608.5 L419.9,606.8 L420.8,610.1 L421.9,606.0 L423.1,605.7 L424.2,608.8 L424.6,606.4 L424.9,606.6 L425.3,604.7 L425.6,605.4 L426.0,602.9 L426.2,604.7 L426.4,605.2 L426.6,606.4 L426.9,606.6 L427.1,608.4 L427.3,608.6 L427.5,609.7 L427.7,610.2 L428.6,610.4 L429.4,613.8 L430.2,612.2 L431.1,614.5 L432.3,612.9 L433.4,610.5 L434.6,612.6 L435.4,615.4 L436.1,616.5 L436.9,615.3 L437.8,616.7 L438.6,615.2 L439.5,617.9 L440.4,618.8 L441.5,620.0 L442.7,618.1 L443.8,617.4 L444.6,620.3 L445.4,619.6 L446.1,621.5 L446.9,620.4 L447.7,623.3 L448.7,622.8 L449.6,619.8 L450.6,619.6 L451.6,622.5 L452.5,620.5 L453.5,624.0 L454.3,624.4 L455.1,622.5 L455.9,625.0 L456.7,625.5 L457.5,624.6 L458.3,626.7 L459.3,625.7 L460.2,626.6 L461.2,625.5 L462.1,625.5 L463.1,625.2 L464.0,625.5 L465.0,625.3 L466.0,627.0 L466.9,625.5 L467.9,625.5 L468.9,626.3 L469.8,626.0 L470.8,627.2 L471.7,627.2 L472.7,626.7 L473.7,626.4 L474.6,626.3 L475.6,627.3 L476.5,627.0 L477.5,627.6 L478.5,626.5 L479.4,625.7 L480.4,626.9 L481.3,625.9 L482.3,627.5 L483.3,627.6 L484.2,627.1 L485.2,626.7 L486.1,626.0 L487.1,626.6 L488.1,625.3 L489.0,626.6 L490.0,627.4 L490.9,625.4 L491.9,626.4 L492.5,625.9 L493.2,624.2 L493.8,623.8 L494.6,623.0 L495.4,624.8 L496.1,624.9 L496.9,627.0 L497.7,626.9 L498.7,627.5 L499.6,626.2 L500.6,626.2 L501.5,626.8 L502.5,625.4 L503.5,625.7 L504.4,626.5 L505.4,625.9 L506.4,625.9 L507.3,625.0 L508.3,626.9 L509.3,626.8 L510.2,627.2 L511.2,626.5" fill="none" stroke="#111" stroke-width="1.35" stroke-dasharray="1.4,1.1"/>
<path d="M348.7,619.0 L349.6,618.7 L350.1,617.6 L350.6,616.6 L351.2,615.6 L351.7,614.7 L352.1,614.2 L352.6,613.5 L353.0,612.8 L353.4,611.5 L353.9,610.5 L354.3,609.9 L354.5,608.9 L354.6,608.2 L354.8,607.1 L355.0,606.3 L355.2,605.3 L355.3,604.6 L355.5,603.4 L355.7,602.8 L355.9,602.0 L356.0,600.7 L356.2,600.0 L356.3,599.2 L356.4,598.3 L356.5,597.3 L356.6,596.3 L356.7,595.4 L356.8,594.7 L356.9,593.5 L357.0,592.7 L357.1,591.9 L357.2,590.9 L357.2,590.0 L357.3,589.2 L357.4,588.2 L357.5,587.3 L357.6,586.4 L357.7,585.6 L357.8,584.5 L357.9,583.6 L358.0,582.7 L358.1,582.0 L358.2,580.8 L358.3,580.1 L358.4,579.0 L358.5,578.1 L358.6,577.3 L358.7,576.5 L358.8,575.6 L358.8,574.5 L358.9,573.8 L359.0,572.8 L359.1,571.9 L359.2,571.0 L359.3,570.0 L359.4,569.1 L359.5,568.2 L359.6,567.3 L359.7,566.4 L359.8,565.3 L359.8,564.4 L359.9,563.6 L360.0,562.8 L360.1,561.8 L360.2,560.9 L360.3,559.8 L360.4,559.1 L360.5,558.2 L360.6,557.1 L360.7,556.5 L360.8,555.6 L360.8,554.5 L360.9,553.7 L361.0,552.7 L361.1,552.0 L361.2,551.0 L361.3,549.9 L361.4,549.1 L361.5,548.1 L361.6,547.4 L361.7,546.5 L361.8,545.3 L361.8,544.4 L361.9,543.8 L362.0,542.6 L362.1,542.0 L362.2,541.0 L362.3,540.0 L362.3,539.1 L362.4,538.1 L362.4,537.2 L362.4,536.3 L362.4,535.3 L362.5,534.4 L362.5,533.5 L362.5,532.6 L362.6,531.7 L362.6,530.8 L362.6,529.8 L362.6,528.9 L362.7,527.9 L362.7,527.0 L362.7,526.1 L362.7,525.1 L362.8,524.2 L362.8,523.2 L362.9,522.4 L363.0,521.5 L363.1,520.4 L363.1,519.6 L363.2,518.8 L363.3,517.7 L363.4,516.8 L363.5,516.0 L363.6,515.0 L363.6,514.1 L363.7,513.2 L363.8,512.2 L363.9,511.5 L364.0,510.4 L364.1,509.6 L364.2,508.5 L364.3,507.7 L364.4,506.7 L364.5,506.0 L364.5,505.2 L364.6,504.3 L364.7,503.1 L364.8,502.3 L364.9,501.4 L365.0,500.6 L365.1,499.5 L365.2,498.7 L365.3,497.9 L365.4,496.9 L365.5,496.1 L365.6,495.1 L365.7,494.1 L365.7,493.2 L365.8,492.3 L365.9,491.6 L366.0,490.4 L366.1,489.6 L366.2,488.7 L366.3,487.8 L366.3,486.9 L366.4,485.9 L366.4,485.1 L366.5,484.2 L366.5,483.2 L366.5,482.2 L366.6,481.4 L366.6,480.4 L366.7,479.6 L366.7,478.6 L366.7,477.6 L366.8,476.7 L366.8,475.8 L366.9,474.9 L366.9,474.3 L367.9,474.7 L368.9,473.6 L369.9,474.0 L369.9,475.0 L369.9,475.8 L370.0,476.8 L370.0,477.7 L370.0,478.7 L370.0,479.7 L370.1,480.5 L370.1,481.5 L370.1,482.5 L370.1,483.4 L370.2,484.3 L370.2,485.2 L370.2,486.2 L370.2,487.1 L370.3,488.0 L370.3,489.0 L370.3,489.9 L370.3,490.9 L370.4,491.8 L370.4,492.8 L370.4,493.6 L370.5,494.7 L370.6,495.5 L370.7,496.4 L370.8,497.4 L370.9,498.2 L371.0,499.1 L371.0,500.1 L371.1,501.0 L371.2,502.0 L371.3,502.8 L371.4,503.7 L371.5,504.6 L371.6,505.4 L371.7,506.3 L371.8,507.2 L372.0,508.5 L372.1,509.3 L372.2,510.3 L372.3,511.2 L372.4,512.2 L372.6,513.0 L372.7,514.1 L372.8,515.1 L372.9,516.0 L373.0,516.9 L373.2,517.9 L373.3,518.6 L373.4,519.6 L373.5,520.6 L373.7,521.4 L373.8,522.5 L374.0,523.5 L374.1,524.1 L374.2,524.9 L374.4,525.9 L374.5,527.2 L374.6,527.7 L374.8,528.7 L374.9,529.8 L375.1,530.7 L375.2,531.4 L375.4,532.2 L375.6,533.7 L375.7,534.6 L375.9,535.0 L376.1,536.5 L376.3,537.3 L376.5,538.0 L376.6,539.0 L376.8,540.2 L377.0,541.0 L377.0,541.9 L377.1,542.8 L377.1,543.8 L377.1,544.6 L377.2,545.6 L377.2,546.4 L377.2,547.4 L377.3,548.2 L377.3,548.6 L377.8,549.4 L378.3,550.6 L378.9,550.6 L379.4,552.8 L379.9,554.0 L380.4,553.7 L380.7,554.6 L381.0,555.4 L381.3,556.1 L381.6,557.6 L381.9,558.5 L382.0,559.4 L382.1,560.5 L382.1,561.1 L382.2,562.1 L382.3,563.0 L382.4,564.1 L382.5,564.8 L382.5,566.0 L382.6,566.7 L382.7,567.7 L382.8,568.8 L382.9,569.5 L383.0,570.5 L383.2,571.3 L383.3,572.5 L383.4,573.2 L383.5,574.2 L383.6,575.4 L383.7,576.3 L383.9,577.1 L384.0,578.2 L384.1,579.2 L384.2,579.9 L384.3,580.9 L384.5,581.8 L384.6,582.8 L384.7,583.7 L384.9,584.3 L385.0,585.2 L385.1,586.3 L385.3,587.3 L385.4,588.0 L385.5,588.9 L385.7,589.9 L385.8,591.1 L386.0,592.0 L386.2,592.8 L386.4,593.3 L386.6,594.4 L386.8,595.1 L387.0,596.3 L387.1,596.9 L387.3,597.8 L387.5,598.7 L387.7,599.9 L387.9,600.3 L388.1,601.4 L388.3,602.2 L388.5,603.1 L388.7,604.5 L388.9,605.4 L389.1,605.8 L389.2,606.8 L389.4,607.9 L389.6,608.7 L389.8,609.8 L390.0,610.2 L390.2,611.4 L390.4,613.1 L391.0,613.9 L391.7,613.4 L392.3,615.4 L392.9,616.1 L393.6,616.9 L394.2,617.6 L394.6,618.4 L395.1,619.2 L395.5,619.6 L396.0,619.9 L396.4,621.5 L396.9,622.3 L397.3,624.0 L398.2,623.7 L399.1,624.9 L400.1,624.1 L401.0,625.5 L401.9,624.6 L402.8,625.6 L403.7,626.1 L404.7,626.7 L405.6,626.7 L406.5,627.2 L407.4,627.4 L408.3,628.1 L409.2,628.5 L410.0,628.1 L410.9,628.6 L411.8,629.0 L412.7,628.8 L413.6,629.1 L414.6,628.7 L415.5,629.1 L416.5,629.1 L417.4,628.7 L418.4,629.1 L419.3,629.1 L420.3,628.8 L421.2,629.1 L422.2,629.1 L423.1,629.0 L424.1,629.1 L425.0,629.3" fill="none" stroke="#000" stroke-width="1.9" stroke-linejoin="round"/>
<path d="M367.0,474.0 L370.0,474.0 L370.0,489.3 L367.0,489.3 Z" fill="#000" fill-opacity="1.00"/>
<path d="M365.0,487.0 L367.3,487.0 L367.3,505.9 L364.6,505.9 Z" fill="#000" fill-opacity="1.00"/>
<path d="M369.3,489.0 L371.5,489.0 L372.4,505.9 L369.5,505.9 Z" fill="#000" fill-opacity="1.00"/>
</g>
<rect x="347.7" y="553.0" width="2.2" height="76.5" fill="#000"/>
<line x1="347.7" y1="474.4" x2="514.4" y2="474.4" stroke="#555" stroke-width="1.7"/>
<line x1="513.7" y1="474.1" x2="513.7" y2="629.5" stroke="#4a4a4a" stroke-width="1.45"/>
<line x1="347.7" y1="473.6" x2="347.7" y2="630.5" stroke="#000" stroke-width="1.3"/>
<line x1="346.7" y1="629.5" x2="514.4" y2="629.5" stroke="#000" stroke-width="2.1"/>
<line x1="343.4" y1="629.5" x2="347.7" y2="629.5" stroke="#000" stroke-width="1.0"/>
<text transform="translate(341.1,629.1) rotate(-90) scale(1,1.3)" font-size="6.6" font-weight="bold" text-anchor="middle" stroke="#000" stroke-width="0.2">0</text>
<line x1="345.0" y1="624.3" x2="347.7" y2="624.3" stroke="#000" stroke-width="1.0"/>
<line x1="345.0" y1="619.1" x2="347.7" y2="619.1" stroke="#000" stroke-width="1.0"/>
<line x1="345.0" y1="614.0" x2="347.7" y2="614.0" stroke="#000" stroke-width="1.0"/>
<line x1="345.0" y1="608.8" x2="347.7" y2="608.8" stroke="#000" stroke-width="1.0"/>
<line x1="343.4" y1="603.6" x2="347.7" y2="603.6" stroke="#000" stroke-width="1.0"/>
<text transform="translate(341.1,603.2) rotate(-90) scale(1,1.3)" font-size="6.6" font-weight="bold" text-anchor="middle" stroke="#000" stroke-width="0.2">20</text>
<line x1="345.0" y1="598.4" x2="347.7" y2="598.4" stroke="#000" stroke-width="1.0"/>
<line x1="345.0" y1="593.2" x2="347.7" y2="593.2" stroke="#000" stroke-width="1.0"/>
<line x1="345.0" y1="588.1" x2="347.7" y2="588.1" stroke="#000" stroke-width="1.0"/>
<line x1="345.0" y1="582.9" x2="347.7" y2="582.9" stroke="#000" stroke-width="1.0"/>
<line x1="343.4" y1="577.7" x2="347.7" y2="577.7" stroke="#000" stroke-width="1.0"/>
<text transform="translate(341.1,577.3) rotate(-90) scale(1,1.3)" font-size="6.6" font-weight="bold" text-anchor="middle" stroke="#000" stroke-width="0.2">40</text>
<line x1="345.0" y1="572.5" x2="347.7" y2="572.5" stroke="#000" stroke-width="1.0"/>
<line x1="345.0" y1="567.3" x2="347.7" y2="567.3" stroke="#000" stroke-width="1.0"/>
<line x1="345.0" y1="562.2" x2="347.7" y2="562.2" stroke="#000" stroke-width="1.0"/>
<line x1="345.0" y1="557.0" x2="347.7" y2="557.0" stroke="#000" stroke-width="1.0"/>
<line x1="343.4" y1="551.8" x2="347.7" y2="551.8" stroke="#000" stroke-width="1.0"/>
<text transform="translate(341.1,551.4) rotate(-90) scale(1,1.3)" font-size="6.6" font-weight="bold" text-anchor="middle" stroke="#000" stroke-width="0.2">60</text>
<line x1="345.0" y1="546.6" x2="347.7" y2="546.6" stroke="#000" stroke-width="1.0"/>
<line x1="345.0" y1="541.4" x2="347.7" y2="541.4" stroke="#000" stroke-width="1.0"/>
<line x1="345.0" y1="536.3" x2="347.7" y2="536.3" stroke="#000" stroke-width="1.0"/>
<line x1="345.0" y1="531.1" x2="347.7" y2="531.1" stroke="#000" stroke-width="1.0"/>
<line x1="343.4" y1="525.9" x2="347.7" y2="525.9" stroke="#000" stroke-width="1.0"/>
<text transform="translate(341.1,525.5) rotate(-90) scale(1,1.3)" font-size="6.6" font-weight="bold" text-anchor="middle" stroke="#000" stroke-width="0.2">80</text>
<line x1="345.0" y1="520.7" x2="347.7" y2="520.7" stroke="#000" stroke-width="1.0"/>
<line x1="345.0" y1="515.5" x2="347.7" y2="515.5" stroke="#000" stroke-width="1.0"/>
<line x1="345.0" y1="510.4" x2="347.7" y2="510.4" stroke="#000" stroke-width="1.0"/>
<line x1="345.0" y1="505.2" x2="347.7" y2="505.2" stroke="#000" stroke-width="1.0"/>
<line x1="343.4" y1="500.0" x2="347.7" y2="500.0" stroke="#000" stroke-width="1.0"/>
<text transform="translate(341.1,499.6) rotate(-90) scale(1,1.3)" font-size="6.6" font-weight="bold" text-anchor="middle" stroke="#000" stroke-width="0.2">100</text>
<line x1="345.0" y1="494.8" x2="347.7" y2="494.8" stroke="#000" stroke-width="1.0"/>
<line x1="345.0" y1="489.6" x2="347.7" y2="489.6" stroke="#000" stroke-width="1.0"/>
<line x1="345.0" y1="484.5" x2="347.7" y2="484.5" stroke="#000" stroke-width="1.0"/>
<line x1="345.0" y1="479.3" x2="347.7" y2="479.3" stroke="#000" stroke-width="1.0"/>
<line x1="343.4" y1="474.1" x2="347.7" y2="474.1" stroke="#000" stroke-width="1.0"/>
<text transform="translate(341.1,473.7) rotate(-90) scale(1,1.3)" font-size="6.6" font-weight="bold" text-anchor="middle" stroke="#000" stroke-width="0.2">120</text>
<line x1="347.7" y1="629.5" x2="347.7" y2="633.5" stroke="#000" stroke-width="0.9"/>
<line x1="360.2" y1="629.5" x2="360.2" y2="631.8" stroke="#000" stroke-width="0.9"/>
<line x1="367.5" y1="629.5" x2="367.5" y2="631.8" stroke="#000" stroke-width="0.9"/>
<line x1="372.7" y1="629.5" x2="372.7" y2="631.8" stroke="#000" stroke-width="0.9"/>
<line x1="376.7" y1="629.5" x2="376.7" y2="631.8" stroke="#000" stroke-width="0.9"/>
<line x1="380.0" y1="629.5" x2="380.0" y2="631.8" stroke="#000" stroke-width="0.9"/>
<line x1="382.8" y1="629.5" x2="382.8" y2="631.8" stroke="#000" stroke-width="0.9"/>
<line x1="385.2" y1="629.5" x2="385.2" y2="631.8" stroke="#000" stroke-width="0.9"/>
<line x1="387.3" y1="629.5" x2="387.3" y2="631.8" stroke="#000" stroke-width="0.9"/>
<text transform="translate(348.2,641.9) scale(1,1.25)" font-size="7" font-weight="bold" text-anchor="middle" stroke="#000" stroke-width="0.2">10<tspan font-size="6" dy="-3.4">0</tspan></text>
<line x1="389.2" y1="629.5" x2="389.2" y2="633.5" stroke="#000" stroke-width="0.9"/>
<line x1="401.7" y1="629.5" x2="401.7" y2="631.8" stroke="#000" stroke-width="0.9"/>
<line x1="409.0" y1="629.5" x2="409.0" y2="631.8" stroke="#000" stroke-width="0.9"/>
<line x1="414.2" y1="629.5" x2="414.2" y2="631.8" stroke="#000" stroke-width="0.9"/>
<line x1="418.2" y1="629.5" x2="418.2" y2="631.8" stroke="#000" stroke-width="0.9"/>
<line x1="421.5" y1="629.5" x2="421.5" y2="631.8" stroke="#000" stroke-width="0.9"/>
<line x1="424.3" y1="629.5" x2="424.3" y2="631.8" stroke="#000" stroke-width="0.9"/>
<line x1="426.7" y1="629.5" x2="426.7" y2="631.8" stroke="#000" stroke-width="0.9"/>
<line x1="428.8" y1="629.5" x2="428.8" y2="631.8" stroke="#000" stroke-width="0.9"/>
<text transform="translate(389.7,641.9) scale(1,1.25)" font-size="7" font-weight="bold" text-anchor="middle" stroke="#000" stroke-width="0.2">10<tspan font-size="6" dy="-3.4">1</tspan></text>
<line x1="430.7" y1="629.5" x2="430.7" y2="633.5" stroke="#000" stroke-width="0.9"/>
<line x1="443.2" y1="629.5" x2="443.2" y2="631.8" stroke="#000" stroke-width="0.9"/>
<line x1="450.5" y1="629.5" x2="450.5" y2="631.8" stroke="#000" stroke-width="0.9"/>
<line x1="455.7" y1="629.5" x2="455.7" y2="631.8" stroke="#000" stroke-width="0.9"/>
<line x1="459.7" y1="629.5" x2="459.7" y2="631.8" stroke="#000" stroke-width="0.9"/>
<line x1="463.0" y1="629.5" x2="463.0" y2="631.8" stroke="#000" stroke-width="0.9"/>
<line x1="465.8" y1="629.5" x2="465.8" y2="631.8" stroke="#000" stroke-width="0.9"/>
<line x1="468.2" y1="629.5" x2="468.2" y2="631.8" stroke="#000" stroke-width="0.9"/>
<line x1="470.3" y1="629.5" x2="470.3" y2="631.8" stroke="#000" stroke-width="0.9"/>
<text transform="translate(431.2,641.9) scale(1,1.25)" font-size="7" font-weight="bold" text-anchor="middle" stroke="#000" stroke-width="0.2">10<tspan font-size="6" dy="-3.4">2</tspan></text>
<line x1="472.2" y1="629.5" x2="472.2" y2="633.5" stroke="#000" stroke-width="0.9"/>
<line x1="484.7" y1="629.5" x2="484.7" y2="631.8" stroke="#000" stroke-width="0.9"/>
<line x1="492.0" y1="629.5" x2="492.0" y2="631.8" stroke="#000" stroke-width="0.9"/>
<line x1="497.2" y1="629.5" x2="497.2" y2="631.8" stroke="#000" stroke-width="0.9"/>
<line x1="501.2" y1="629.5" x2="501.2" y2="631.8" stroke="#000" stroke-width="0.9"/>
<line x1="504.5" y1="629.5" x2="504.5" y2="631.8" stroke="#000" stroke-width="0.9"/>
<line x1="507.3" y1="629.5" x2="507.3" y2="631.8" stroke="#000" stroke-width="0.9"/>
<line x1="509.7" y1="629.5" x2="509.7" y2="631.8" stroke="#000" stroke-width="0.9"/>
<line x1="511.8" y1="629.5" x2="511.8" y2="631.8" stroke="#000" stroke-width="0.9"/>
<text transform="translate(472.7,641.9) scale(1,1.25)" font-size="7" font-weight="bold" text-anchor="middle" stroke="#000" stroke-width="0.2">10<tspan font-size="6" dy="-3.4">3</tspan></text>
<line x1="513.7" y1="629.5" x2="513.7" y2="633.5" stroke="#000" stroke-width="0.9"/>
<text transform="translate(514.2,641.9) scale(1,1.25)" font-size="7" font-weight="bold" text-anchor="middle" stroke="#000" stroke-width="0.2">10<tspan font-size="6" dy="-3.4">4</tspan></text>
<line x1="386.3" y1="593.4" x2="511.7" y2="593.4" stroke="#2a2a2a" stroke-width="1.4"/>
<line x1="511.7" y1="586.4" x2="511.7" y2="600.4" stroke="#444" stroke-width="1.9"/>
<line x1="513.0" y1="629.5" x2="513.0" y2="600.0" stroke="#111" stroke-width="1.4" stroke-dasharray="1.4,1.2"/>

<line x1="142.5" y1="394" x2="459" y2="394" stroke="#000" stroke-width="2.2"/>
<path d="M457.5,389.6 L470.5,394 L457.5,398.4 Z" fill="#000"/>
<line x1="139.2" y1="652.7" x2="456" y2="652.7" stroke="#000" stroke-width="2.2"/>
<path d="M454.5,649 L466.5,652.8 L454.5,656.8 Z" fill="#000"/>
<path d="M446.3,575.9 L448.2,575.9 L448.2,589.6 L446.3,589.6 L446.3,579.3 C445.7,579.9 445.0,580.2 444.3,580.3 L444.3,578.9 C445.3,578.6 446.0,577.6 446.3,575.9 Z" fill="#000"/>
<path d="M321.5,431.4 L324.1,431.4 L324.1,452 L321.5,452 L321.5,436.5 C320.5,437.5 318.5,438 316.5,438 L316.5,436 C319,435.5 320.8,434 321.5,431.4 Z" fill="#000"/>
<text transform="translate(-0.48,20.90) scale(1,1.0156)" font-size="29.394" font-weight="bold" stroke="#000" stroke-width="0.00">A</text>
<text transform="translate(126.64,23.19) scale(1,1.0623)" font-size="29.169" stroke="#000" stroke-width="0.30">G-CSFR</text>
<text transform="translate(362.13,23.20) scale(1,1.0153)" font-size="29.408" stroke="#000" stroke-width="0.30">GM-CSFR</text>
<text transform="translate(-0.07,131.79) scale(1,1.0680)" font-size="19.486" stroke="#000" stroke-width="0.30">Control</text>
<text transform="translate(14.22,327.50) scale(1,1.0128)" font-size="19.747" stroke="#000" stroke-width="0.30">Null</text>
<text transform="translate(83.50,233.07) rotate(-90) scale(1,1.0211)" font-size="19.448" stroke="#000" stroke-width="0.30">Counts</text>
<text transform="translate(210.16,413.48) scale(1,0.9930)" font-size="19.284" stroke="#000" stroke-width="0.30">Fluorescence Intensity</text>
<text transform="translate(-0.90,435.00) scale(1,0.9903)" font-size="30.000" font-weight="bold" stroke="#000" stroke-width="0.00">B</text>
<text transform="translate(271.89,452.01) scale(1,1.0403)" font-size="28.296" stroke="#000" stroke-width="0.30">Gr-</text>
<text transform="translate(149.52,461.60) scale(1,1.0335)" font-size="19.614" stroke="#000" stroke-width="0.30">Control</text>
<text transform="translate(412.20,462.20) scale(1,1.0000)" font-size="20.000" stroke="#000" stroke-width="0.30">Null</text>
<text transform="translate(83.39,588.16) rotate(-90) scale(1,1.0699)" font-size="19.221" stroke="#000" stroke-width="0.30">Counts</text>
<text transform="translate(185.56,588.51) scale(1,1.0113)" font-size="18.802" stroke="#000" stroke-width="0.30">67%</text>
<text transform="translate(430.64,589.80) scale(1,1.1048)" font-size="18.235" stroke="#000" stroke-width="0.30">4</text>
<text transform="translate(451.93,589.80) scale(1,1.0601)" font-size="19.136" stroke="#000" stroke-width="0.30">%</text>
<text transform="translate(214.66,671.42) scale(1,0.9362)" font-size="19.204" stroke="#000" stroke-width="0.30">Fluorescence Intensity</text>
</svg>
</body></html>
